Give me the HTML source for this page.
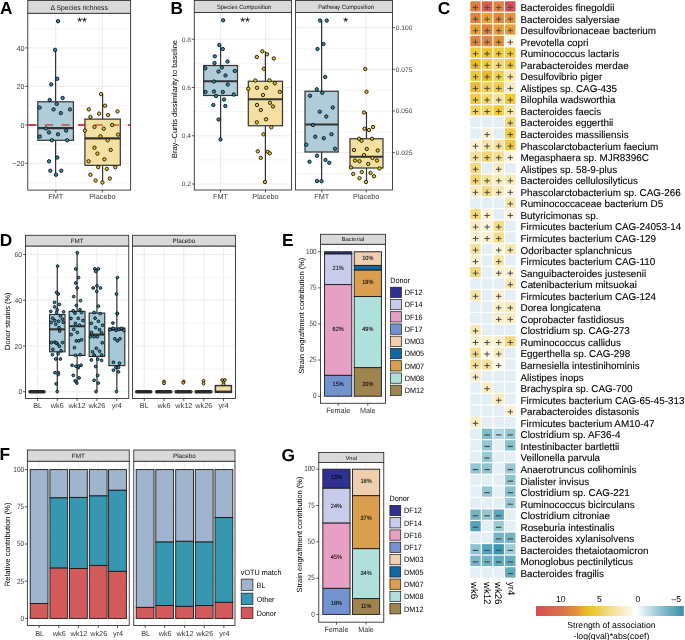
<!DOCTYPE html>
<html><head><meta charset="utf-8"><style>
html,body{margin:0;padding:0;background:#fff;}
svg{display:block;will-change:transform;}
text{font-family:"Liberation Sans", sans-serif;text-rendering:geometricPrecision;}
</style></head><body>
<svg width="685" height="640" viewBox="0 0 685 640">
<rect x="0" y="0" width="685" height="640" fill="#fff"/>
<text x="0.00" y="13.50" font-size="17.3" text-anchor="start" fill="#000" font-weight="bold" >A</text>
<text x="170.60" y="13.60" font-size="17.3" text-anchor="start" fill="#000" font-weight="bold" >B</text>
<text x="437.80" y="13.60" font-size="17.3" text-anchor="start" fill="#000" font-weight="bold" >C</text>
<text x="-0.20" y="245.60" font-size="17.3" text-anchor="start" fill="#000" font-weight="bold" >D</text>
<text x="282.00" y="246.20" font-size="17.3" text-anchor="start" fill="#000" font-weight="bold" >E</text>
<text x="-0.40" y="460.00" font-size="17.3" text-anchor="start" fill="#000" font-weight="bold" >F</text>
<text x="281.50" y="460.60" font-size="17.3" text-anchor="start" fill="#000" font-weight="bold" >G</text>
<rect x="27.75" y="13.30" width="102.85" height="176.80" fill="#fff" stroke="none" stroke-width="0" />
<line x1="27.75" y1="182.65" x2="130.60" y2="182.65" stroke="#ebebeb" stroke-width="0.5" />
<line x1="27.75" y1="144.15" x2="130.60" y2="144.15" stroke="#ebebeb" stroke-width="0.5" />
<line x1="27.75" y1="105.65" x2="130.60" y2="105.65" stroke="#ebebeb" stroke-width="0.5" />
<line x1="27.75" y1="67.15" x2="130.60" y2="67.15" stroke="#ebebeb" stroke-width="0.5" />
<line x1="27.75" y1="28.65" x2="130.60" y2="28.65" stroke="#ebebeb" stroke-width="0.5" />
<line x1="27.75" y1="163.40" x2="130.60" y2="163.40" stroke="#ebebeb" stroke-width="0.9" />
<line x1="27.75" y1="124.90" x2="130.60" y2="124.90" stroke="#ebebeb" stroke-width="0.9" />
<line x1="27.75" y1="86.40" x2="130.60" y2="86.40" stroke="#ebebeb" stroke-width="0.9" />
<line x1="27.75" y1="47.90" x2="130.60" y2="47.90" stroke="#ebebeb" stroke-width="0.9" />
<line x1="55.80" y1="13.30" x2="55.80" y2="190.10" stroke="#ebebeb" stroke-width="0.9" />
<line x1="102.40" y1="13.30" x2="102.40" y2="190.10" stroke="#ebebeb" stroke-width="0.9" />
<line x1="27.75" y1="125.00" x2="130.60" y2="125.00" stroke="#d44646" stroke-width="2.0" stroke-dasharray="8.3 8.3" stroke-dashoffset="-0.45"/>
<line x1="55.60" y1="49.83" x2="55.60" y2="101.80" stroke="#333333" stroke-width="1.2" />
<line x1="55.60" y1="140.30" x2="55.60" y2="174.95" stroke="#333333" stroke-width="1.2" />
<rect x="37.80" y="101.80" width="35.60" height="38.50" fill="#b0ccd9" stroke="#333333" stroke-width="1.2" />
<line x1="37.80" y1="128.17" x2="73.40" y2="128.17" stroke="#333333" stroke-width="2.1" />
<line x1="102.60" y1="94.10" x2="102.60" y2="119.12" stroke="#333333" stroke-width="1.2" />
<line x1="102.60" y1="165.33" x2="102.60" y2="182.65" stroke="#333333" stroke-width="1.2" />
<rect x="84.90" y="119.12" width="35.40" height="46.20" fill="#f5e0a3" stroke="#333333" stroke-width="1.2" />
<line x1="84.90" y1="138.38" x2="120.30" y2="138.38" stroke="#333333" stroke-width="2.1" />
<defs><clipPath id="cfm"><rect x="38.40" y="100" width="34.40" height="40"/></clipPath><clipPath id="cpl"><rect x="85.50" y="100" width="34.20" height="40"/></clipPath></defs>
<line x1="27.75" y1="125.00" x2="130.60" y2="125.00" stroke="#b46e6e" stroke-width="2.0" stroke-dasharray="8.3 8.3" stroke-dashoffset="-0.45" clip-path="url(#cfm)"/>
<line x1="27.75" y1="125.00" x2="130.60" y2="125.00" stroke="#de8048" stroke-width="2.0" stroke-dasharray="8.3 8.3" stroke-dashoffset="-0.45" clip-path="url(#cpl)"/>
<circle cx="58.00" cy="21.20" r="1.7" fill="#2d8fab" stroke="#000" stroke-width="0.8"/>
<circle cx="55.10" cy="49.90" r="1.7" fill="#2d8fab" stroke="#000" stroke-width="0.8"/>
<circle cx="57.30" cy="78.80" r="1.7" fill="#2d8fab" stroke="#000" stroke-width="0.8"/>
<circle cx="51.20" cy="84.40" r="1.7" fill="#2d8fab" stroke="#000" stroke-width="0.8"/>
<circle cx="49.70" cy="100.00" r="1.7" fill="#2d8fab" stroke="#000" stroke-width="0.8"/>
<circle cx="62.60" cy="98.00" r="1.7" fill="#2d8fab" stroke="#000" stroke-width="0.8"/>
<circle cx="56.70" cy="103.90" r="1.7" fill="#2d8fab" stroke="#000" stroke-width="0.8"/>
<circle cx="39.60" cy="107.60" r="1.7" fill="#2d8fab" stroke="#000" stroke-width="0.8"/>
<circle cx="53.60" cy="109.40" r="1.7" fill="#2d8fab" stroke="#000" stroke-width="0.8"/>
<circle cx="60.80" cy="113.10" r="1.7" fill="#2d8fab" stroke="#000" stroke-width="0.8"/>
<circle cx="70.00" cy="109.40" r="1.7" fill="#2d8fab" stroke="#000" stroke-width="0.8"/>
<circle cx="45.90" cy="128.40" r="1.7" fill="#2d8fab" stroke="#000" stroke-width="0.8"/>
<circle cx="49.00" cy="132.40" r="1.7" fill="#2d8fab" stroke="#000" stroke-width="0.8"/>
<circle cx="58.00" cy="134.30" r="1.7" fill="#2d8fab" stroke="#000" stroke-width="0.8"/>
<circle cx="66.10" cy="130.60" r="1.7" fill="#2d8fab" stroke="#000" stroke-width="0.8"/>
<circle cx="39.80" cy="136.50" r="1.7" fill="#2d8fab" stroke="#000" stroke-width="0.8"/>
<circle cx="51.80" cy="140.30" r="1.7" fill="#2d8fab" stroke="#000" stroke-width="0.8"/>
<circle cx="67.20" cy="140.30" r="1.7" fill="#2d8fab" stroke="#000" stroke-width="0.8"/>
<circle cx="57.30" cy="157.50" r="1.7" fill="#2d8fab" stroke="#000" stroke-width="0.8"/>
<circle cx="49.00" cy="161.30" r="1.7" fill="#2d8fab" stroke="#000" stroke-width="0.8"/>
<circle cx="50.30" cy="170.70" r="1.7" fill="#2d8fab" stroke="#000" stroke-width="0.8"/>
<circle cx="61.30" cy="170.70" r="1.7" fill="#2d8fab" stroke="#000" stroke-width="0.8"/>
<circle cx="56.00" cy="174.80" r="1.7" fill="#2d8fab" stroke="#000" stroke-width="0.8"/>
<circle cx="101.10" cy="94.10" r="1.7" fill="#e9c420" stroke="#000" stroke-width="0.8"/>
<circle cx="88.80" cy="109.40" r="1.7" fill="#e9c420" stroke="#000" stroke-width="0.8"/>
<circle cx="105.00" cy="105.70" r="1.7" fill="#e9c420" stroke="#000" stroke-width="0.8"/>
<circle cx="117.50" cy="111.40" r="1.7" fill="#e9c420" stroke="#000" stroke-width="0.8"/>
<circle cx="90.40" cy="117.00" r="1.7" fill="#e9c420" stroke="#000" stroke-width="0.8"/>
<circle cx="99.10" cy="113.60" r="1.7" fill="#e9c420" stroke="#000" stroke-width="0.8"/>
<circle cx="108.10" cy="115.10" r="1.7" fill="#e9c420" stroke="#000" stroke-width="0.8"/>
<circle cx="84.90" cy="130.60" r="1.7" fill="#e9c420" stroke="#000" stroke-width="0.8"/>
<circle cx="94.50" cy="126.90" r="1.7" fill="#e9c420" stroke="#000" stroke-width="0.8"/>
<circle cx="103.70" cy="128.70" r="1.7" fill="#e9c420" stroke="#000" stroke-width="0.8"/>
<circle cx="112.20" cy="125.00" r="1.7" fill="#e9c420" stroke="#000" stroke-width="0.8"/>
<circle cx="118.10" cy="134.60" r="1.7" fill="#e9c420" stroke="#000" stroke-width="0.8"/>
<circle cx="100.40" cy="136.30" r="1.7" fill="#e9c420" stroke="#000" stroke-width="0.8"/>
<circle cx="107.60" cy="140.30" r="1.7" fill="#e9c420" stroke="#000" stroke-width="0.8"/>
<circle cx="94.50" cy="147.70" r="1.7" fill="#e9c420" stroke="#000" stroke-width="0.8"/>
<circle cx="110.70" cy="149.90" r="1.7" fill="#e9c420" stroke="#000" stroke-width="0.8"/>
<circle cx="97.40" cy="153.60" r="1.7" fill="#e9c420" stroke="#000" stroke-width="0.8"/>
<circle cx="104.40" cy="159.30" r="1.7" fill="#e9c420" stroke="#000" stroke-width="0.8"/>
<circle cx="88.60" cy="161.30" r="1.7" fill="#e9c420" stroke="#000" stroke-width="0.8"/>
<circle cx="98.20" cy="167.20" r="1.7" fill="#e9c420" stroke="#000" stroke-width="0.8"/>
<circle cx="106.80" cy="168.90" r="1.7" fill="#e9c420" stroke="#000" stroke-width="0.8"/>
<circle cx="115.30" cy="167.20" r="1.7" fill="#e9c420" stroke="#000" stroke-width="0.8"/>
<circle cx="90.40" cy="174.80" r="1.7" fill="#e9c420" stroke="#000" stroke-width="0.8"/>
<circle cx="95.60" cy="180.50" r="1.7" fill="#e9c420" stroke="#000" stroke-width="0.8"/>
<circle cx="102.40" cy="182.50" r="1.7" fill="#e9c420" stroke="#000" stroke-width="0.8"/>
<circle cx="109.80" cy="178.50" r="1.7" fill="#e9c420" stroke="#000" stroke-width="0.8"/>
<text x="82.00" y="25.50" font-size="12.5" text-anchor="middle" fill="#000" >**</text>
<rect x="27.75" y="13.30" width="102.85" height="176.80" fill="none" stroke="#333333" stroke-width="0.9" />
<rect x="27.75" y="0.50" width="102.85" height="12.80" fill="#d9d9d9" stroke="#333333" stroke-width="0.9" />
<text x="79.17" y="9.80" font-size="6.9" text-anchor="middle" fill="#111" textLength="57.3" lengthAdjust="spacingAndGlyphs" >Δ Species richness</text>
<line x1="25.25" y1="163.40" x2="27.75" y2="163.40" stroke="#333333" stroke-width="0.8" />
<text x="24.45" y="166.28" font-size="7.2" text-anchor="end" fill="#3a3a3a" >−20</text>
<line x1="25.25" y1="124.90" x2="27.75" y2="124.90" stroke="#333333" stroke-width="0.8" />
<text x="24.45" y="127.78" font-size="7.2" text-anchor="end" fill="#3a3a3a" >0</text>
<line x1="25.25" y1="86.40" x2="27.75" y2="86.40" stroke="#333333" stroke-width="0.8" />
<text x="24.45" y="89.28" font-size="7.2" text-anchor="end" fill="#3a3a3a" >20</text>
<line x1="25.25" y1="47.90" x2="27.75" y2="47.90" stroke="#333333" stroke-width="0.8" />
<text x="24.45" y="50.78" font-size="7.2" text-anchor="end" fill="#3a3a3a" >40</text>
<line x1="55.80" y1="190.10" x2="55.80" y2="192.60" stroke="#333333" stroke-width="0.8" />
<text x="55.80" y="199.00" font-size="7.3" text-anchor="middle" fill="#3a3a3a" >FMT</text>
<line x1="102.40" y1="190.10" x2="102.40" y2="192.60" stroke="#333333" stroke-width="0.8" />
<text x="102.40" y="199.00" font-size="7.3" text-anchor="middle" fill="#3a3a3a" >Placebo</text>
<rect x="194.30" y="12.50" width="97.20" height="177.50" fill="#fff" stroke="none" stroke-width="0" />
<rect x="295.50" y="12.50" width="97.00" height="177.50" fill="#fff" stroke="none" stroke-width="0" />
<line x1="194.30" y1="159.88" x2="291.50" y2="159.88" stroke="#ebebeb" stroke-width="0.5" />
<line x1="194.30" y1="111.62" x2="291.50" y2="111.62" stroke="#ebebeb" stroke-width="0.5" />
<line x1="194.30" y1="63.38" x2="291.50" y2="63.38" stroke="#ebebeb" stroke-width="0.5" />
<line x1="194.30" y1="184.00" x2="291.50" y2="184.00" stroke="#ebebeb" stroke-width="0.9" />
<line x1="194.30" y1="135.75" x2="291.50" y2="135.75" stroke="#ebebeb" stroke-width="0.9" />
<line x1="194.30" y1="87.50" x2="291.50" y2="87.50" stroke="#ebebeb" stroke-width="0.9" />
<line x1="194.30" y1="39.25" x2="291.50" y2="39.25" stroke="#ebebeb" stroke-width="0.9" />
<line x1="295.50" y1="131.85" x2="392.50" y2="131.85" stroke="#ebebeb" stroke-width="0.5" />
<line x1="295.50" y1="90.15" x2="392.50" y2="90.15" stroke="#ebebeb" stroke-width="0.5" />
<line x1="295.50" y1="48.45" x2="392.50" y2="48.45" stroke="#ebebeb" stroke-width="0.5" />
<line x1="295.50" y1="173.55" x2="392.50" y2="173.55" stroke="#ebebeb" stroke-width="0.5" />
<line x1="295.50" y1="152.70" x2="392.50" y2="152.70" stroke="#ebebeb" stroke-width="0.9" />
<line x1="295.50" y1="111.00" x2="392.50" y2="111.00" stroke="#ebebeb" stroke-width="0.9" />
<line x1="295.50" y1="69.30" x2="392.50" y2="69.30" stroke="#ebebeb" stroke-width="0.9" />
<line x1="295.50" y1="27.60" x2="392.50" y2="27.60" stroke="#ebebeb" stroke-width="0.9" />
<line x1="220.50" y1="12.50" x2="220.50" y2="190.00" stroke="#ebebeb" stroke-width="0.9" />
<line x1="265.50" y1="12.50" x2="265.50" y2="190.00" stroke="#ebebeb" stroke-width="0.9" />
<line x1="321.75" y1="12.50" x2="321.75" y2="190.00" stroke="#ebebeb" stroke-width="0.9" />
<line x1="366.25" y1="12.50" x2="366.25" y2="190.00" stroke="#ebebeb" stroke-width="0.9" />
<line x1="220.60" y1="45.28" x2="220.60" y2="65.50" stroke="#333333" stroke-width="1.2" />
<line x1="220.60" y1="95.50" x2="220.60" y2="139.37" stroke="#333333" stroke-width="1.2" />
<rect x="203.70" y="65.50" width="33.80" height="30.00" fill="#b0ccd9" stroke="#333333" stroke-width="1.2" />
<line x1="203.70" y1="81.25" x2="237.50" y2="81.25" stroke="#333333" stroke-width="2.1" />
<line x1="265.40" y1="51.31" x2="265.40" y2="81.25" stroke="#333333" stroke-width="1.2" />
<line x1="265.40" y1="125.75" x2="265.40" y2="182.79" stroke="#333333" stroke-width="1.2" />
<rect x="248.30" y="81.25" width="34.20" height="44.50" fill="#f5e0a3" stroke="#333333" stroke-width="1.2" />
<line x1="248.30" y1="99.25" x2="282.50" y2="99.25" stroke="#333333" stroke-width="2.1" />
<line x1="321.60" y1="20.30" x2="321.60" y2="91.25" stroke="#333333" stroke-width="1.2" />
<line x1="321.60" y1="152.00" x2="321.60" y2="181.25" stroke="#333333" stroke-width="1.2" />
<rect x="305.00" y="91.25" width="33.20" height="60.75" fill="#b0ccd9" stroke="#333333" stroke-width="1.2" />
<line x1="305.00" y1="124.50" x2="338.20" y2="124.50" stroke="#333333" stroke-width="2.1" />
<line x1="366.50" y1="112.00" x2="366.50" y2="138.75" stroke="#333333" stroke-width="1.2" />
<line x1="366.50" y1="168.00" x2="366.50" y2="182.00" stroke="#333333" stroke-width="1.2" />
<rect x="350.00" y="138.75" width="33.00" height="29.25" fill="#f5e0a3" stroke="#333333" stroke-width="1.2" />
<line x1="350.00" y1="156.80" x2="383.00" y2="156.80" stroke="#333333" stroke-width="2.1" />
<circle cx="223.10" cy="20.30" r="1.7" fill="#2d8fab" stroke="#000" stroke-width="0.8"/>
<circle cx="219.30" cy="45.00" r="1.7" fill="#2d8fab" stroke="#000" stroke-width="0.8"/>
<circle cx="222.80" cy="49.00" r="1.7" fill="#2d8fab" stroke="#000" stroke-width="0.8"/>
<circle cx="214.80" cy="56.30" r="1.7" fill="#2d8fab" stroke="#000" stroke-width="0.8"/>
<circle cx="214.50" cy="63.00" r="1.7" fill="#2d8fab" stroke="#000" stroke-width="0.8"/>
<circle cx="227.50" cy="61.50" r="1.7" fill="#2d8fab" stroke="#000" stroke-width="0.8"/>
<circle cx="205.30" cy="68.30" r="1.7" fill="#2d8fab" stroke="#000" stroke-width="0.8"/>
<circle cx="221.80" cy="67.50" r="1.7" fill="#2d8fab" stroke="#000" stroke-width="0.8"/>
<circle cx="218.50" cy="71.50" r="1.7" fill="#2d8fab" stroke="#000" stroke-width="0.8"/>
<circle cx="225.50" cy="75.50" r="1.7" fill="#2d8fab" stroke="#000" stroke-width="0.8"/>
<circle cx="234.80" cy="71.00" r="1.7" fill="#2d8fab" stroke="#000" stroke-width="0.8"/>
<circle cx="213.80" cy="81.50" r="1.7" fill="#2d8fab" stroke="#000" stroke-width="0.8"/>
<circle cx="227.80" cy="84.50" r="1.7" fill="#2d8fab" stroke="#000" stroke-width="0.8"/>
<circle cx="205.50" cy="92.00" r="1.7" fill="#2d8fab" stroke="#000" stroke-width="0.8"/>
<circle cx="214.00" cy="91.50" r="1.7" fill="#2d8fab" stroke="#000" stroke-width="0.8"/>
<circle cx="222.80" cy="92.00" r="1.7" fill="#2d8fab" stroke="#000" stroke-width="0.8"/>
<circle cx="233.80" cy="94.50" r="1.7" fill="#2d8fab" stroke="#000" stroke-width="0.8"/>
<circle cx="216.00" cy="96.00" r="1.7" fill="#2d8fab" stroke="#000" stroke-width="0.8"/>
<circle cx="224.00" cy="99.50" r="1.7" fill="#2d8fab" stroke="#000" stroke-width="0.8"/>
<circle cx="213.30" cy="105.00" r="1.7" fill="#2d8fab" stroke="#000" stroke-width="0.8"/>
<circle cx="225.30" cy="106.00" r="1.7" fill="#2d8fab" stroke="#000" stroke-width="0.8"/>
<circle cx="218.50" cy="119.50" r="1.7" fill="#2d8fab" stroke="#000" stroke-width="0.8"/>
<circle cx="220.50" cy="139.50" r="1.7" fill="#2d8fab" stroke="#000" stroke-width="0.8"/>
<circle cx="262.30" cy="51.30" r="1.7" fill="#e9c420" stroke="#000" stroke-width="0.8"/>
<circle cx="256.80" cy="57.00" r="1.7" fill="#e9c420" stroke="#000" stroke-width="0.8"/>
<circle cx="267.00" cy="54.30" r="1.7" fill="#e9c420" stroke="#000" stroke-width="0.8"/>
<circle cx="273.80" cy="58.50" r="1.7" fill="#e9c420" stroke="#000" stroke-width="0.8"/>
<circle cx="263.80" cy="68.80" r="1.7" fill="#e9c420" stroke="#000" stroke-width="0.8"/>
<circle cx="255.30" cy="80.50" r="1.7" fill="#e9c420" stroke="#000" stroke-width="0.8"/>
<circle cx="269.50" cy="80.30" r="1.7" fill="#e9c420" stroke="#000" stroke-width="0.8"/>
<circle cx="274.80" cy="83.30" r="1.7" fill="#e9c420" stroke="#000" stroke-width="0.8"/>
<circle cx="248.30" cy="88.80" r="1.7" fill="#e9c420" stroke="#000" stroke-width="0.8"/>
<circle cx="257.00" cy="87.80" r="1.7" fill="#e9c420" stroke="#000" stroke-width="0.8"/>
<circle cx="266.30" cy="87.80" r="1.7" fill="#e9c420" stroke="#000" stroke-width="0.8"/>
<circle cx="279.80" cy="91.80" r="1.7" fill="#e9c420" stroke="#000" stroke-width="0.8"/>
<circle cx="263.00" cy="95.00" r="1.7" fill="#e9c420" stroke="#000" stroke-width="0.8"/>
<circle cx="257.00" cy="105.00" r="1.7" fill="#e9c420" stroke="#000" stroke-width="0.8"/>
<circle cx="270.00" cy="102.80" r="1.7" fill="#e9c420" stroke="#000" stroke-width="0.8"/>
<circle cx="273.00" cy="106.50" r="1.7" fill="#e9c420" stroke="#000" stroke-width="0.8"/>
<circle cx="260.80" cy="110.00" r="1.7" fill="#e9c420" stroke="#000" stroke-width="0.8"/>
<circle cx="266.00" cy="119.30" r="1.7" fill="#e9c420" stroke="#000" stroke-width="0.8"/>
<circle cx="256.80" cy="122.30" r="1.7" fill="#e9c420" stroke="#000" stroke-width="0.8"/>
<circle cx="271.30" cy="127.30" r="1.7" fill="#e9c420" stroke="#000" stroke-width="0.8"/>
<circle cx="263.50" cy="134.30" r="1.7" fill="#e9c420" stroke="#000" stroke-width="0.8"/>
<circle cx="257.80" cy="151.30" r="1.7" fill="#e9c420" stroke="#000" stroke-width="0.8"/>
<circle cx="260.80" cy="157.80" r="1.7" fill="#e9c420" stroke="#000" stroke-width="0.8"/>
<circle cx="267.80" cy="151.80" r="1.7" fill="#e9c420" stroke="#000" stroke-width="0.8"/>
<circle cx="269.80" cy="153.30" r="1.7" fill="#e9c420" stroke="#000" stroke-width="0.8"/>
<circle cx="265.00" cy="182.00" r="1.7" fill="#e9c420" stroke="#000" stroke-width="0.8"/>
<circle cx="320.00" cy="20.50" r="1.7" fill="#2d8fab" stroke="#000" stroke-width="0.8"/>
<circle cx="326.75" cy="20.50" r="1.7" fill="#2d8fab" stroke="#000" stroke-width="0.8"/>
<circle cx="317.50" cy="49.00" r="1.7" fill="#2d8fab" stroke="#000" stroke-width="0.8"/>
<circle cx="323.50" cy="44.00" r="1.7" fill="#2d8fab" stroke="#000" stroke-width="0.8"/>
<circle cx="325.25" cy="77.00" r="1.7" fill="#2d8fab" stroke="#000" stroke-width="0.8"/>
<circle cx="316.75" cy="89.25" r="1.7" fill="#2d8fab" stroke="#000" stroke-width="0.8"/>
<circle cx="310.00" cy="95.75" r="1.7" fill="#2d8fab" stroke="#000" stroke-width="0.8"/>
<circle cx="322.25" cy="92.75" r="1.7" fill="#2d8fab" stroke="#000" stroke-width="0.8"/>
<circle cx="332.75" cy="107.50" r="1.7" fill="#2d8fab" stroke="#000" stroke-width="0.8"/>
<circle cx="319.75" cy="111.75" r="1.7" fill="#2d8fab" stroke="#000" stroke-width="0.8"/>
<circle cx="326.25" cy="116.50" r="1.7" fill="#2d8fab" stroke="#000" stroke-width="0.8"/>
<circle cx="313.00" cy="125.00" r="1.7" fill="#2d8fab" stroke="#000" stroke-width="0.8"/>
<circle cx="315.25" cy="136.75" r="1.7" fill="#2d8fab" stroke="#000" stroke-width="0.8"/>
<circle cx="323.75" cy="138.25" r="1.7" fill="#2d8fab" stroke="#000" stroke-width="0.8"/>
<circle cx="331.50" cy="134.25" r="1.7" fill="#2d8fab" stroke="#000" stroke-width="0.8"/>
<circle cx="306.25" cy="144.75" r="1.7" fill="#2d8fab" stroke="#000" stroke-width="0.8"/>
<circle cx="335.00" cy="148.75" r="1.7" fill="#2d8fab" stroke="#000" stroke-width="0.8"/>
<circle cx="317.00" cy="155.75" r="1.7" fill="#2d8fab" stroke="#000" stroke-width="0.8"/>
<circle cx="309.50" cy="161.75" r="1.7" fill="#2d8fab" stroke="#000" stroke-width="0.8"/>
<circle cx="325.50" cy="160.00" r="1.7" fill="#2d8fab" stroke="#000" stroke-width="0.8"/>
<circle cx="329.25" cy="162.75" r="1.7" fill="#2d8fab" stroke="#000" stroke-width="0.8"/>
<circle cx="317.00" cy="181.00" r="1.7" fill="#2d8fab" stroke="#000" stroke-width="0.8"/>
<circle cx="321.50" cy="181.25" r="1.7" fill="#2d8fab" stroke="#000" stroke-width="0.8"/>
<circle cx="365.25" cy="69.00" r="1.7" fill="#e9c420" stroke="#000" stroke-width="0.8"/>
<circle cx="366.50" cy="91.75" r="1.7" fill="#e9c420" stroke="#000" stroke-width="0.8"/>
<circle cx="364.00" cy="112.50" r="1.7" fill="#e9c420" stroke="#000" stroke-width="0.8"/>
<circle cx="364.50" cy="128.75" r="1.7" fill="#e9c420" stroke="#000" stroke-width="0.8"/>
<circle cx="369.00" cy="130.00" r="1.7" fill="#e9c420" stroke="#000" stroke-width="0.8"/>
<circle cx="373.00" cy="127.00" r="1.7" fill="#e9c420" stroke="#000" stroke-width="0.8"/>
<circle cx="359.00" cy="138.75" r="1.7" fill="#e9c420" stroke="#000" stroke-width="0.8"/>
<circle cx="361.50" cy="140.75" r="1.7" fill="#e9c420" stroke="#000" stroke-width="0.8"/>
<circle cx="372.00" cy="138.75" r="1.7" fill="#e9c420" stroke="#000" stroke-width="0.8"/>
<circle cx="354.00" cy="150.00" r="1.7" fill="#e9c420" stroke="#000" stroke-width="0.8"/>
<circle cx="366.75" cy="149.00" r="1.7" fill="#e9c420" stroke="#000" stroke-width="0.8"/>
<circle cx="377.75" cy="150.50" r="1.7" fill="#e9c420" stroke="#000" stroke-width="0.8"/>
<circle cx="364.00" cy="155.00" r="1.7" fill="#e9c420" stroke="#000" stroke-width="0.8"/>
<circle cx="355.00" cy="160.50" r="1.7" fill="#e9c420" stroke="#000" stroke-width="0.8"/>
<circle cx="359.50" cy="161.25" r="1.7" fill="#e9c420" stroke="#000" stroke-width="0.8"/>
<circle cx="372.50" cy="158.00" r="1.7" fill="#e9c420" stroke="#000" stroke-width="0.8"/>
<circle cx="377.00" cy="160.50" r="1.7" fill="#e9c420" stroke="#000" stroke-width="0.8"/>
<circle cx="368.25" cy="164.00" r="1.7" fill="#e9c420" stroke="#000" stroke-width="0.8"/>
<circle cx="351.00" cy="167.50" r="1.7" fill="#e9c420" stroke="#000" stroke-width="0.8"/>
<circle cx="379.50" cy="168.50" r="1.7" fill="#e9c420" stroke="#000" stroke-width="0.8"/>
<circle cx="353.25" cy="174.00" r="1.7" fill="#e9c420" stroke="#000" stroke-width="0.8"/>
<circle cx="361.75" cy="172.00" r="1.7" fill="#e9c420" stroke="#000" stroke-width="0.8"/>
<circle cx="370.50" cy="173.00" r="1.7" fill="#e9c420" stroke="#000" stroke-width="0.8"/>
<circle cx="374.00" cy="176.25" r="1.7" fill="#e9c420" stroke="#000" stroke-width="0.8"/>
<circle cx="359.50" cy="178.25" r="1.7" fill="#e9c420" stroke="#000" stroke-width="0.8"/>
<circle cx="366.00" cy="182.00" r="1.7" fill="#e9c420" stroke="#000" stroke-width="0.8"/>
<text x="245.00" y="25.50" font-size="12.5" text-anchor="middle" fill="#000" >**</text>
<text x="345.80" y="25.50" font-size="12.5" text-anchor="middle" fill="#000" >*</text>
<rect x="194.30" y="12.50" width="97.20" height="177.50" fill="none" stroke="#333333" stroke-width="0.9" />
<rect x="295.50" y="12.50" width="97.00" height="177.50" fill="none" stroke="#333333" stroke-width="0.9" />
<rect x="194.30" y="0.50" width="97.20" height="12.00" fill="#d9d9d9" stroke="#333333" stroke-width="0.9" />
<text x="244.10" y="9.30" font-size="6.1" text-anchor="middle" fill="#111" textLength="54.1" lengthAdjust="spacingAndGlyphs" >Species Composition</text>
<rect x="295.50" y="0.50" width="97.00" height="12.00" fill="#d9d9d9" stroke="#333333" stroke-width="0.9" />
<text x="346.00" y="9.30" font-size="6.1" text-anchor="middle" fill="#111" textLength="55.7" lengthAdjust="spacingAndGlyphs" >Pathway Composition</text>
<line x1="191.80" y1="184.00" x2="194.30" y2="184.00" stroke="#333333" stroke-width="0.8" />
<text x="191.00" y="186.46" font-size="6.6" text-anchor="end" fill="#3a3a3a" >0.2</text>
<line x1="191.80" y1="135.75" x2="194.30" y2="135.75" stroke="#333333" stroke-width="0.8" />
<text x="191.00" y="138.21" font-size="6.6" text-anchor="end" fill="#3a3a3a" >0.4</text>
<line x1="191.80" y1="87.50" x2="194.30" y2="87.50" stroke="#333333" stroke-width="0.8" />
<text x="191.00" y="89.96" font-size="6.6" text-anchor="end" fill="#3a3a3a" >0.6</text>
<line x1="191.80" y1="39.25" x2="194.30" y2="39.25" stroke="#333333" stroke-width="0.8" />
<text x="191.00" y="41.71" font-size="6.6" text-anchor="end" fill="#3a3a3a" >0.8</text>
<line x1="392.50" y1="152.70" x2="395.00" y2="152.70" stroke="#333333" stroke-width="0.8" />
<text x="395.80" y="155.16" font-size="6.6" text-anchor="start" fill="#3a3a3a" >0.025</text>
<line x1="392.50" y1="111.00" x2="395.00" y2="111.00" stroke="#333333" stroke-width="0.8" />
<text x="395.80" y="113.46" font-size="6.6" text-anchor="start" fill="#3a3a3a" >0.050</text>
<line x1="392.50" y1="69.30" x2="395.00" y2="69.30" stroke="#333333" stroke-width="0.8" />
<text x="395.80" y="71.76" font-size="6.6" text-anchor="start" fill="#3a3a3a" >0.075</text>
<line x1="392.50" y1="27.60" x2="395.00" y2="27.60" stroke="#333333" stroke-width="0.8" />
<text x="395.80" y="30.06" font-size="6.6" text-anchor="start" fill="#3a3a3a" >0.100</text>
<line x1="220.50" y1="190.00" x2="220.50" y2="192.50" stroke="#333333" stroke-width="0.8" />
<text x="220.50" y="199.00" font-size="7.3" text-anchor="middle" fill="#3a3a3a" >FMT</text>
<line x1="265.50" y1="190.00" x2="265.50" y2="192.50" stroke="#333333" stroke-width="0.8" />
<text x="265.50" y="199.00" font-size="7.3" text-anchor="middle" fill="#3a3a3a" >Placebo</text>
<line x1="321.75" y1="190.00" x2="321.75" y2="192.50" stroke="#333333" stroke-width="0.8" />
<text x="321.75" y="199.00" font-size="7.3" text-anchor="middle" fill="#3a3a3a" >FMT</text>
<line x1="366.25" y1="190.00" x2="366.25" y2="192.50" stroke="#333333" stroke-width="0.8" />
<text x="366.25" y="199.00" font-size="7.3" text-anchor="middle" fill="#3a3a3a" >Placebo</text>
<text x="176.90" y="99.00" font-size="7.5" text-anchor="middle" fill="#000" textLength="118" lengthAdjust="spacingAndGlyphs" transform="rotate(-90 176.90 99.00)" >Bray–Curtis dissimilarity to baseline</text>
<rect x="470.30" y="1.30" width="10.40" height="10.30" fill="#e07f3c" stroke="none" stroke-width="0" />
<line x1="472.75" y1="7.55" x2="478.25" y2="7.55" stroke="#4a4a4a" stroke-width="1.0" />
<line x1="475.50" y1="4.95" x2="475.50" y2="10.15" stroke="#4a4a4a" stroke-width="1.0" />
<rect x="481.90" y="1.30" width="10.40" height="10.30" fill="#d85d4b" stroke="none" stroke-width="0" />
<line x1="484.35" y1="7.55" x2="489.85" y2="7.55" stroke="#4a4a4a" stroke-width="1.0" />
<line x1="487.10" y1="4.95" x2="487.10" y2="10.15" stroke="#4a4a4a" stroke-width="1.0" />
<rect x="493.50" y="1.30" width="10.40" height="10.30" fill="#e0823c" stroke="none" stroke-width="0" />
<line x1="495.95" y1="7.55" x2="501.45" y2="7.55" stroke="#4a4a4a" stroke-width="1.0" />
<line x1="498.70" y1="4.95" x2="498.70" y2="10.15" stroke="#4a4a4a" stroke-width="1.0" />
<rect x="505.10" y="1.30" width="10.40" height="10.30" fill="#d44f52" stroke="none" stroke-width="0" />
<line x1="507.55" y1="7.55" x2="513.05" y2="7.55" stroke="#4a4a4a" stroke-width="1.0" />
<line x1="510.30" y1="4.95" x2="510.30" y2="10.15" stroke="#4a4a4a" stroke-width="1.0" />
<text x="520.50" y="10.95" font-size="9.9" text-anchor="start" fill="#000" stroke="#000" stroke-width="0.1">Bacteroides finegoldii</text>
<rect x="470.30" y="12.85" width="10.40" height="10.30" fill="#e0853d" stroke="none" stroke-width="0" />
<line x1="472.75" y1="19.10" x2="478.25" y2="19.10" stroke="#4a4a4a" stroke-width="1.0" />
<line x1="475.50" y1="16.50" x2="475.50" y2="21.70" stroke="#4a4a4a" stroke-width="1.0" />
<rect x="481.90" y="12.85" width="10.40" height="10.30" fill="#e8a234" stroke="none" stroke-width="0" />
<line x1="484.35" y1="19.10" x2="489.85" y2="19.10" stroke="#4a4a4a" stroke-width="1.0" />
<line x1="487.10" y1="16.50" x2="487.10" y2="21.70" stroke="#4a4a4a" stroke-width="1.0" />
<rect x="493.50" y="12.85" width="10.40" height="10.30" fill="#e28a3c" stroke="none" stroke-width="0" />
<line x1="495.95" y1="19.10" x2="501.45" y2="19.10" stroke="#4a4a4a" stroke-width="1.0" />
<line x1="498.70" y1="16.50" x2="498.70" y2="21.70" stroke="#4a4a4a" stroke-width="1.0" />
<rect x="505.10" y="12.85" width="10.40" height="10.30" fill="#e49438" stroke="none" stroke-width="0" />
<line x1="507.55" y1="19.10" x2="513.05" y2="19.10" stroke="#4a4a4a" stroke-width="1.0" />
<line x1="510.30" y1="16.50" x2="510.30" y2="21.70" stroke="#4a4a4a" stroke-width="1.0" />
<text x="520.50" y="22.50" font-size="9.9" text-anchor="start" fill="#000" stroke="#000" stroke-width="0.1">Bacteroides salyersiae</text>
<rect x="470.30" y="24.40" width="10.40" height="10.30" fill="#e8a034" stroke="none" stroke-width="0" />
<line x1="472.75" y1="30.65" x2="478.25" y2="30.65" stroke="#4a4a4a" stroke-width="1.0" />
<line x1="475.50" y1="28.05" x2="475.50" y2="33.25" stroke="#4a4a4a" stroke-width="1.0" />
<rect x="481.90" y="24.40" width="10.40" height="10.30" fill="#e0823c" stroke="none" stroke-width="0" />
<line x1="484.35" y1="30.65" x2="489.85" y2="30.65" stroke="#4a4a4a" stroke-width="1.0" />
<line x1="487.10" y1="28.05" x2="487.10" y2="33.25" stroke="#4a4a4a" stroke-width="1.0" />
<rect x="493.50" y="24.40" width="10.40" height="10.30" fill="#e69c36" stroke="none" stroke-width="0" />
<line x1="495.95" y1="30.65" x2="501.45" y2="30.65" stroke="#4a4a4a" stroke-width="1.0" />
<line x1="498.70" y1="28.05" x2="498.70" y2="33.25" stroke="#4a4a4a" stroke-width="1.0" />
<rect x="505.10" y="24.40" width="10.40" height="10.30" fill="#e8a034" stroke="none" stroke-width="0" />
<line x1="507.55" y1="30.65" x2="513.05" y2="30.65" stroke="#4a4a4a" stroke-width="1.0" />
<line x1="510.30" y1="28.05" x2="510.30" y2="33.25" stroke="#4a4a4a" stroke-width="1.0" />
<text x="520.50" y="34.05" font-size="9.9" text-anchor="start" fill="#000" stroke="#000" stroke-width="0.1">Desulfovibrionaceae bacterium</text>
<rect x="470.30" y="35.95" width="10.40" height="10.30" fill="#e0853d" stroke="none" stroke-width="0" />
<line x1="472.75" y1="42.20" x2="478.25" y2="42.20" stroke="#4a4a4a" stroke-width="1.0" />
<line x1="475.50" y1="39.60" x2="475.50" y2="44.80" stroke="#4a4a4a" stroke-width="1.0" />
<rect x="481.90" y="35.95" width="10.40" height="10.30" fill="#e0863d" stroke="none" stroke-width="0" />
<line x1="484.35" y1="42.20" x2="489.85" y2="42.20" stroke="#4a4a4a" stroke-width="1.0" />
<line x1="487.10" y1="39.60" x2="487.10" y2="44.80" stroke="#4a4a4a" stroke-width="1.0" />
<rect x="493.50" y="35.95" width="10.40" height="10.30" fill="#e39239" stroke="none" stroke-width="0" />
<line x1="495.95" y1="42.20" x2="501.45" y2="42.20" stroke="#4a4a4a" stroke-width="1.0" />
<line x1="498.70" y1="39.60" x2="498.70" y2="44.80" stroke="#4a4a4a" stroke-width="1.0" />
<rect x="505.10" y="35.95" width="10.40" height="10.30" fill="#fbf4d8" stroke="none" stroke-width="0" />
<line x1="507.55" y1="42.20" x2="513.05" y2="42.20" stroke="#4a4a4a" stroke-width="1.0" />
<line x1="510.30" y1="39.60" x2="510.30" y2="44.80" stroke="#4a4a4a" stroke-width="1.0" />
<text x="520.50" y="45.60" font-size="9.9" text-anchor="start" fill="#000" stroke="#000" stroke-width="0.1">Prevotella copri</text>
<rect x="470.30" y="47.50" width="10.40" height="10.30" fill="#f0cc3a" stroke="none" stroke-width="0" />
<line x1="472.75" y1="53.75" x2="478.25" y2="53.75" stroke="#4a4a4a" stroke-width="1.0" />
<line x1="475.50" y1="51.15" x2="475.50" y2="56.35" stroke="#4a4a4a" stroke-width="1.0" />
<rect x="481.90" y="47.50" width="10.40" height="10.30" fill="#eec530" stroke="none" stroke-width="0" />
<line x1="484.35" y1="53.75" x2="489.85" y2="53.75" stroke="#4a4a4a" stroke-width="1.0" />
<line x1="487.10" y1="51.15" x2="487.10" y2="56.35" stroke="#4a4a4a" stroke-width="1.0" />
<rect x="493.50" y="47.50" width="10.40" height="10.30" fill="#f0cc3a" stroke="none" stroke-width="0" />
<line x1="495.95" y1="53.75" x2="501.45" y2="53.75" stroke="#4a4a4a" stroke-width="1.0" />
<line x1="498.70" y1="51.15" x2="498.70" y2="56.35" stroke="#4a4a4a" stroke-width="1.0" />
<rect x="505.10" y="47.50" width="10.40" height="10.30" fill="#f0cd40" stroke="none" stroke-width="0" />
<line x1="507.55" y1="53.75" x2="513.05" y2="53.75" stroke="#4a4a4a" stroke-width="1.0" />
<line x1="510.30" y1="51.15" x2="510.30" y2="56.35" stroke="#4a4a4a" stroke-width="1.0" />
<text x="520.50" y="57.15" font-size="9.9" text-anchor="start" fill="#000" stroke="#000" stroke-width="0.1">Ruminococcus lactaris</text>
<rect x="470.30" y="59.05" width="10.40" height="10.30" fill="#eab82c" stroke="none" stroke-width="0" />
<line x1="472.75" y1="65.30" x2="478.25" y2="65.30" stroke="#4a4a4a" stroke-width="1.0" />
<line x1="475.50" y1="62.70" x2="475.50" y2="67.90" stroke="#4a4a4a" stroke-width="1.0" />
<rect x="481.90" y="59.05" width="10.40" height="10.30" fill="#f0cc3e" stroke="none" stroke-width="0" />
<line x1="484.35" y1="65.30" x2="489.85" y2="65.30" stroke="#4a4a4a" stroke-width="1.0" />
<line x1="487.10" y1="62.70" x2="487.10" y2="67.90" stroke="#4a4a4a" stroke-width="1.0" />
<rect x="493.50" y="59.05" width="10.40" height="10.30" fill="#f3d870" stroke="none" stroke-width="0" />
<line x1="495.95" y1="65.30" x2="501.45" y2="65.30" stroke="#4a4a4a" stroke-width="1.0" />
<line x1="498.70" y1="62.70" x2="498.70" y2="67.90" stroke="#4a4a4a" stroke-width="1.0" />
<rect x="505.10" y="59.05" width="10.40" height="10.30" fill="#f0cc3c" stroke="none" stroke-width="0" />
<line x1="507.55" y1="65.30" x2="513.05" y2="65.30" stroke="#4a4a4a" stroke-width="1.0" />
<line x1="510.30" y1="62.70" x2="510.30" y2="67.90" stroke="#4a4a4a" stroke-width="1.0" />
<text x="520.50" y="68.70" font-size="9.9" text-anchor="start" fill="#000" stroke="#000" stroke-width="0.1">Parabacteroides merdae</text>
<rect x="470.30" y="70.60" width="10.40" height="10.30" fill="#f0c938" stroke="none" stroke-width="0" />
<line x1="472.75" y1="76.85" x2="478.25" y2="76.85" stroke="#4a4a4a" stroke-width="1.0" />
<line x1="475.50" y1="74.25" x2="475.50" y2="79.45" stroke="#4a4a4a" stroke-width="1.0" />
<rect x="481.90" y="70.60" width="10.40" height="10.30" fill="#eab92c" stroke="none" stroke-width="0" />
<line x1="484.35" y1="76.85" x2="489.85" y2="76.85" stroke="#4a4a4a" stroke-width="1.0" />
<line x1="487.10" y1="74.25" x2="487.10" y2="79.45" stroke="#4a4a4a" stroke-width="1.0" />
<rect x="493.50" y="70.60" width="10.40" height="10.30" fill="#f1d04a" stroke="none" stroke-width="0" />
<line x1="495.95" y1="76.85" x2="501.45" y2="76.85" stroke="#4a4a4a" stroke-width="1.0" />
<line x1="498.70" y1="74.25" x2="498.70" y2="79.45" stroke="#4a4a4a" stroke-width="1.0" />
<rect x="505.10" y="70.60" width="10.40" height="10.30" fill="#f7e6a8" stroke="none" stroke-width="0" />
<line x1="507.55" y1="76.85" x2="513.05" y2="76.85" stroke="#4a4a4a" stroke-width="1.0" />
<line x1="510.30" y1="74.25" x2="510.30" y2="79.45" stroke="#4a4a4a" stroke-width="1.0" />
<text x="520.50" y="80.25" font-size="9.9" text-anchor="start" fill="#000" stroke="#000" stroke-width="0.1">Desulfovibrio piger</text>
<rect x="470.30" y="82.15" width="10.40" height="10.30" fill="#ebbd2e" stroke="none" stroke-width="0" />
<line x1="472.75" y1="88.40" x2="478.25" y2="88.40" stroke="#4a4a4a" stroke-width="1.0" />
<line x1="475.50" y1="85.80" x2="475.50" y2="91.00" stroke="#4a4a4a" stroke-width="1.0" />
<rect x="481.90" y="82.15" width="10.40" height="10.30" fill="#f1d050" stroke="none" stroke-width="0" />
<line x1="484.35" y1="88.40" x2="489.85" y2="88.40" stroke="#4a4a4a" stroke-width="1.0" />
<line x1="487.10" y1="85.80" x2="487.10" y2="91.00" stroke="#4a4a4a" stroke-width="1.0" />
<rect x="493.50" y="82.15" width="10.40" height="10.30" fill="#f0cc3c" stroke="none" stroke-width="0" />
<line x1="495.95" y1="88.40" x2="501.45" y2="88.40" stroke="#4a4a4a" stroke-width="1.0" />
<line x1="498.70" y1="85.80" x2="498.70" y2="91.00" stroke="#4a4a4a" stroke-width="1.0" />
<rect x="505.10" y="82.15" width="10.40" height="10.30" fill="#f9ecc0" stroke="none" stroke-width="0" />
<line x1="507.55" y1="88.40" x2="513.05" y2="88.40" stroke="#4a4a4a" stroke-width="1.0" />
<line x1="510.30" y1="85.80" x2="510.30" y2="91.00" stroke="#4a4a4a" stroke-width="1.0" />
<text x="520.50" y="91.80" font-size="9.9" text-anchor="start" fill="#000" stroke="#000" stroke-width="0.1">Alistipes sp. CAG-435</text>
<rect x="470.30" y="93.70" width="10.40" height="10.30" fill="#f0ca40" stroke="none" stroke-width="0" />
<line x1="472.75" y1="99.95" x2="478.25" y2="99.95" stroke="#4a4a4a" stroke-width="1.0" />
<line x1="475.50" y1="97.35" x2="475.50" y2="102.55" stroke="#4a4a4a" stroke-width="1.0" />
<rect x="481.90" y="93.70" width="10.40" height="10.30" fill="#f3d868" stroke="none" stroke-width="0" />
<line x1="484.35" y1="99.95" x2="489.85" y2="99.95" stroke="#4a4a4a" stroke-width="1.0" />
<line x1="487.10" y1="97.35" x2="487.10" y2="102.55" stroke="#4a4a4a" stroke-width="1.0" />
<rect x="493.50" y="93.70" width="10.40" height="10.30" fill="#f6e2a0" stroke="none" stroke-width="0" />
<line x1="495.95" y1="99.95" x2="501.45" y2="99.95" stroke="#4a4a4a" stroke-width="1.0" />
<line x1="498.70" y1="97.35" x2="498.70" y2="102.55" stroke="#4a4a4a" stroke-width="1.0" />
<rect x="505.10" y="93.70" width="10.40" height="10.30" fill="#f0ca3a" stroke="none" stroke-width="0" />
<line x1="507.55" y1="99.95" x2="513.05" y2="99.95" stroke="#4a4a4a" stroke-width="1.0" />
<line x1="510.30" y1="97.35" x2="510.30" y2="102.55" stroke="#4a4a4a" stroke-width="1.0" />
<text x="520.50" y="103.35" font-size="9.9" text-anchor="start" fill="#000" stroke="#000" stroke-width="0.1">Bilophila wadsworthia</text>
<rect x="470.30" y="105.25" width="10.40" height="10.30" fill="#f3d660" stroke="none" stroke-width="0" />
<line x1="472.75" y1="111.50" x2="478.25" y2="111.50" stroke="#4a4a4a" stroke-width="1.0" />
<line x1="475.50" y1="108.90" x2="475.50" y2="114.10" stroke="#4a4a4a" stroke-width="1.0" />
<rect x="481.90" y="105.25" width="10.40" height="10.30" fill="#f3d560" stroke="none" stroke-width="0" />
<line x1="484.35" y1="111.50" x2="489.85" y2="111.50" stroke="#4a4a4a" stroke-width="1.0" />
<line x1="487.10" y1="108.90" x2="487.10" y2="114.10" stroke="#4a4a4a" stroke-width="1.0" />
<rect x="493.50" y="105.25" width="10.40" height="10.30" fill="#f0c93a" stroke="none" stroke-width="0" />
<line x1="495.95" y1="111.50" x2="501.45" y2="111.50" stroke="#4a4a4a" stroke-width="1.0" />
<line x1="498.70" y1="108.90" x2="498.70" y2="114.10" stroke="#4a4a4a" stroke-width="1.0" />
<rect x="505.10" y="105.25" width="10.40" height="10.30" fill="#f8e8b0" stroke="none" stroke-width="0" />
<line x1="507.55" y1="111.50" x2="513.05" y2="111.50" stroke="#4a4a4a" stroke-width="1.0" />
<line x1="510.30" y1="108.90" x2="510.30" y2="114.10" stroke="#4a4a4a" stroke-width="1.0" />
<text x="520.50" y="114.90" font-size="9.9" text-anchor="start" fill="#000" stroke="#000" stroke-width="0.1">Bacteroides faecis</text>
<rect x="470.30" y="116.80" width="10.40" height="10.30" fill="#e3eff4" stroke="none" stroke-width="0" />
<rect x="481.90" y="116.80" width="10.40" height="10.30" fill="#e3eff4" stroke="none" stroke-width="0" />
<rect x="493.50" y="116.80" width="10.40" height="10.30" fill="#e3eff4" stroke="none" stroke-width="0" />
<rect x="505.10" y="116.80" width="10.40" height="10.30" fill="#f3d776" stroke="none" stroke-width="0" />
<line x1="507.55" y1="123.05" x2="513.05" y2="123.05" stroke="#4a4a4a" stroke-width="1.0" />
<line x1="510.30" y1="120.45" x2="510.30" y2="125.65" stroke="#4a4a4a" stroke-width="1.0" />
<text x="520.50" y="126.45" font-size="9.9" text-anchor="start" fill="#000" stroke="#000" stroke-width="0.1">Bacteroides eggerthii</text>
<rect x="470.30" y="128.35" width="10.40" height="10.30" fill="#e3eff4" stroke="none" stroke-width="0" />
<rect x="481.90" y="128.35" width="10.40" height="10.30" fill="#fbf1d4" stroke="none" stroke-width="0" />
<line x1="484.35" y1="134.60" x2="489.85" y2="134.60" stroke="#4a4a4a" stroke-width="1.0" />
<line x1="487.10" y1="132.00" x2="487.10" y2="137.20" stroke="#4a4a4a" stroke-width="1.0" />
<rect x="493.50" y="128.35" width="10.40" height="10.30" fill="#e3eff4" stroke="none" stroke-width="0" />
<rect x="505.10" y="128.35" width="10.40" height="10.30" fill="#f0cc40" stroke="none" stroke-width="0" />
<line x1="507.55" y1="134.60" x2="513.05" y2="134.60" stroke="#4a4a4a" stroke-width="1.0" />
<line x1="510.30" y1="132.00" x2="510.30" y2="137.20" stroke="#4a4a4a" stroke-width="1.0" />
<text x="520.50" y="138.00" font-size="9.9" text-anchor="start" fill="#000" stroke="#000" stroke-width="0.1">Bacteroides massiliensis</text>
<rect x="470.30" y="139.90" width="10.40" height="10.30" fill="#fbf0d0" stroke="none" stroke-width="0" />
<line x1="472.75" y1="146.15" x2="478.25" y2="146.15" stroke="#4a4a4a" stroke-width="1.0" />
<line x1="475.50" y1="143.55" x2="475.50" y2="148.75" stroke="#4a4a4a" stroke-width="1.0" />
<rect x="481.90" y="139.90" width="10.40" height="10.30" fill="#f8e6a8" stroke="none" stroke-width="0" />
<line x1="484.35" y1="146.15" x2="489.85" y2="146.15" stroke="#4a4a4a" stroke-width="1.0" />
<line x1="487.10" y1="143.55" x2="487.10" y2="148.75" stroke="#4a4a4a" stroke-width="1.0" />
<rect x="493.50" y="139.90" width="10.40" height="10.30" fill="#f6e096" stroke="none" stroke-width="0" />
<line x1="495.95" y1="146.15" x2="501.45" y2="146.15" stroke="#4a4a4a" stroke-width="1.0" />
<line x1="498.70" y1="143.55" x2="498.70" y2="148.75" stroke="#4a4a4a" stroke-width="1.0" />
<rect x="505.10" y="139.90" width="10.40" height="10.30" fill="#eec838" stroke="none" stroke-width="0" />
<line x1="507.55" y1="146.15" x2="513.05" y2="146.15" stroke="#4a4a4a" stroke-width="1.0" />
<line x1="510.30" y1="143.55" x2="510.30" y2="148.75" stroke="#4a4a4a" stroke-width="1.0" />
<text x="520.50" y="149.55" font-size="9.9" text-anchor="start" fill="#000" stroke="#000" stroke-width="0.1">Phascolarctobacterium faecium</text>
<rect x="470.30" y="151.45" width="10.40" height="10.30" fill="#f6e09a" stroke="none" stroke-width="0" />
<line x1="472.75" y1="157.70" x2="478.25" y2="157.70" stroke="#4a4a4a" stroke-width="1.0" />
<line x1="475.50" y1="155.10" x2="475.50" y2="160.30" stroke="#4a4a4a" stroke-width="1.0" />
<rect x="481.90" y="151.45" width="10.40" height="10.30" fill="#f3d670" stroke="none" stroke-width="0" />
<line x1="484.35" y1="157.70" x2="489.85" y2="157.70" stroke="#4a4a4a" stroke-width="1.0" />
<line x1="487.10" y1="155.10" x2="487.10" y2="160.30" stroke="#4a4a4a" stroke-width="1.0" />
<rect x="493.50" y="151.45" width="10.40" height="10.30" fill="#f5df96" stroke="none" stroke-width="0" />
<line x1="495.95" y1="157.70" x2="501.45" y2="157.70" stroke="#4a4a4a" stroke-width="1.0" />
<line x1="498.70" y1="155.10" x2="498.70" y2="160.30" stroke="#4a4a4a" stroke-width="1.0" />
<rect x="505.10" y="151.45" width="10.40" height="10.30" fill="#fcf4dc" stroke="none" stroke-width="0" />
<line x1="507.55" y1="157.70" x2="513.05" y2="157.70" stroke="#4a4a4a" stroke-width="1.0" />
<line x1="510.30" y1="155.10" x2="510.30" y2="160.30" stroke="#4a4a4a" stroke-width="1.0" />
<text x="520.50" y="161.10" font-size="9.9" text-anchor="start" fill="#000" stroke="#000" stroke-width="0.1">Megasphaera sp. MJR8396C</text>
<rect x="470.30" y="163.00" width="10.40" height="10.30" fill="#f4da7c" stroke="none" stroke-width="0" />
<line x1="472.75" y1="169.25" x2="478.25" y2="169.25" stroke="#4a4a4a" stroke-width="1.0" />
<line x1="475.50" y1="166.65" x2="475.50" y2="171.85" stroke="#4a4a4a" stroke-width="1.0" />
<rect x="481.90" y="163.00" width="10.40" height="10.30" fill="#e3eff4" stroke="none" stroke-width="0" />
<rect x="493.50" y="163.00" width="10.40" height="10.30" fill="#f9ecc0" stroke="none" stroke-width="0" />
<line x1="495.95" y1="169.25" x2="501.45" y2="169.25" stroke="#4a4a4a" stroke-width="1.0" />
<line x1="498.70" y1="166.65" x2="498.70" y2="171.85" stroke="#4a4a4a" stroke-width="1.0" />
<rect x="505.10" y="163.00" width="10.40" height="10.30" fill="#e3eff4" stroke="none" stroke-width="0" />
<text x="520.50" y="172.65" font-size="9.9" text-anchor="start" fill="#000" stroke="#000" stroke-width="0.1">Alistipes sp. 58-9-plus</text>
<rect x="470.30" y="174.55" width="10.40" height="10.30" fill="#f2d668" stroke="none" stroke-width="0" />
<line x1="472.75" y1="180.80" x2="478.25" y2="180.80" stroke="#4a4a4a" stroke-width="1.0" />
<line x1="475.50" y1="178.20" x2="475.50" y2="183.40" stroke="#4a4a4a" stroke-width="1.0" />
<rect x="481.90" y="174.55" width="10.40" height="10.30" fill="#f6e298" stroke="none" stroke-width="0" />
<line x1="484.35" y1="180.80" x2="489.85" y2="180.80" stroke="#4a4a4a" stroke-width="1.0" />
<line x1="487.10" y1="178.20" x2="487.10" y2="183.40" stroke="#4a4a4a" stroke-width="1.0" />
<rect x="493.50" y="174.55" width="10.40" height="10.30" fill="#f9ebbc" stroke="none" stroke-width="0" />
<line x1="495.95" y1="180.80" x2="501.45" y2="180.80" stroke="#4a4a4a" stroke-width="1.0" />
<line x1="498.70" y1="178.20" x2="498.70" y2="183.40" stroke="#4a4a4a" stroke-width="1.0" />
<rect x="505.10" y="174.55" width="10.40" height="10.30" fill="#f8e8b4" stroke="none" stroke-width="0" />
<line x1="507.55" y1="180.80" x2="513.05" y2="180.80" stroke="#4a4a4a" stroke-width="1.0" />
<line x1="510.30" y1="178.20" x2="510.30" y2="183.40" stroke="#4a4a4a" stroke-width="1.0" />
<text x="520.50" y="184.20" font-size="9.9" text-anchor="start" fill="#000" stroke="#000" stroke-width="0.1">Bacteroides cellulosilyticus</text>
<rect x="470.30" y="186.10" width="10.40" height="10.30" fill="#f9ebbc" stroke="none" stroke-width="0" />
<line x1="472.75" y1="192.35" x2="478.25" y2="192.35" stroke="#4a4a4a" stroke-width="1.0" />
<line x1="475.50" y1="189.75" x2="475.50" y2="194.95" stroke="#4a4a4a" stroke-width="1.0" />
<rect x="481.90" y="186.10" width="10.40" height="10.30" fill="#f4d982" stroke="none" stroke-width="0" />
<line x1="484.35" y1="192.35" x2="489.85" y2="192.35" stroke="#4a4a4a" stroke-width="1.0" />
<line x1="487.10" y1="189.75" x2="487.10" y2="194.95" stroke="#4a4a4a" stroke-width="1.0" />
<rect x="493.50" y="186.10" width="10.40" height="10.30" fill="#f8e8b4" stroke="none" stroke-width="0" />
<line x1="495.95" y1="192.35" x2="501.45" y2="192.35" stroke="#4a4a4a" stroke-width="1.0" />
<line x1="498.70" y1="189.75" x2="498.70" y2="194.95" stroke="#4a4a4a" stroke-width="1.0" />
<rect x="505.10" y="186.10" width="10.40" height="10.30" fill="#fcf5e0" stroke="none" stroke-width="0" />
<line x1="507.55" y1="192.35" x2="513.05" y2="192.35" stroke="#4a4a4a" stroke-width="1.0" />
<line x1="510.30" y1="189.75" x2="510.30" y2="194.95" stroke="#4a4a4a" stroke-width="1.0" />
<text x="520.50" y="195.75" font-size="9.9" text-anchor="start" fill="#000" stroke="#000" stroke-width="0.1">Phascolarctobacterium sp. CAG-266</text>
<rect x="470.30" y="197.65" width="10.40" height="10.30" fill="#e3eff4" stroke="none" stroke-width="0" />
<rect x="481.90" y="197.65" width="10.40" height="10.30" fill="#e3eff4" stroke="none" stroke-width="0" />
<rect x="493.50" y="197.65" width="10.40" height="10.30" fill="#e3eff4" stroke="none" stroke-width="0" />
<rect x="505.10" y="197.65" width="10.40" height="10.30" fill="#f8e6ac" stroke="none" stroke-width="0" />
<line x1="507.55" y1="203.90" x2="513.05" y2="203.90" stroke="#4a4a4a" stroke-width="1.0" />
<line x1="510.30" y1="201.30" x2="510.30" y2="206.50" stroke="#4a4a4a" stroke-width="1.0" />
<text x="520.50" y="207.30" font-size="9.9" text-anchor="start" fill="#000" stroke="#000" stroke-width="0.1">Ruminococcaceae bacterium D5</text>
<rect x="470.30" y="209.20" width="10.40" height="10.30" fill="#f3d778" stroke="none" stroke-width="0" />
<line x1="472.75" y1="215.45" x2="478.25" y2="215.45" stroke="#4a4a4a" stroke-width="1.0" />
<line x1="475.50" y1="212.85" x2="475.50" y2="218.05" stroke="#4a4a4a" stroke-width="1.0" />
<rect x="481.90" y="209.20" width="10.40" height="10.30" fill="#fcf3d8" stroke="none" stroke-width="0" />
<line x1="484.35" y1="215.45" x2="489.85" y2="215.45" stroke="#4a4a4a" stroke-width="1.0" />
<line x1="487.10" y1="212.85" x2="487.10" y2="218.05" stroke="#4a4a4a" stroke-width="1.0" />
<rect x="493.50" y="209.20" width="10.40" height="10.30" fill="#e3eff4" stroke="none" stroke-width="0" />
<rect x="505.10" y="209.20" width="10.40" height="10.30" fill="#fcf4dc" stroke="none" stroke-width="0" />
<line x1="507.55" y1="215.45" x2="513.05" y2="215.45" stroke="#4a4a4a" stroke-width="1.0" />
<line x1="510.30" y1="212.85" x2="510.30" y2="218.05" stroke="#4a4a4a" stroke-width="1.0" />
<text x="520.50" y="218.85" font-size="9.9" text-anchor="start" fill="#000" stroke="#000" stroke-width="0.1">Butyricimonas sp.</text>
<rect x="470.30" y="220.75" width="10.40" height="10.30" fill="#f9eabc" stroke="none" stroke-width="0" />
<line x1="472.75" y1="227.00" x2="478.25" y2="227.00" stroke="#4a4a4a" stroke-width="1.0" />
<line x1="475.50" y1="224.40" x2="475.50" y2="229.60" stroke="#4a4a4a" stroke-width="1.0" />
<rect x="481.90" y="220.75" width="10.40" height="10.30" fill="#fcf3d8" stroke="none" stroke-width="0" />
<line x1="484.35" y1="227.00" x2="489.85" y2="227.00" stroke="#4a4a4a" stroke-width="1.0" />
<line x1="487.10" y1="224.40" x2="487.10" y2="229.60" stroke="#4a4a4a" stroke-width="1.0" />
<rect x="493.50" y="220.75" width="10.40" height="10.30" fill="#f5dc88" stroke="none" stroke-width="0" />
<line x1="495.95" y1="227.00" x2="501.45" y2="227.00" stroke="#4a4a4a" stroke-width="1.0" />
<line x1="498.70" y1="224.40" x2="498.70" y2="229.60" stroke="#4a4a4a" stroke-width="1.0" />
<rect x="505.10" y="220.75" width="10.40" height="10.30" fill="#e3eff4" stroke="none" stroke-width="0" />
<text x="520.50" y="230.40" font-size="9.9" text-anchor="start" fill="#000" stroke="#000" stroke-width="0.1">Firmicutes bacterium CAG-24053-14</text>
<rect x="470.30" y="232.30" width="10.40" height="10.30" fill="#fbf0cc" stroke="none" stroke-width="0" />
<line x1="472.75" y1="238.55" x2="478.25" y2="238.55" stroke="#4a4a4a" stroke-width="1.0" />
<line x1="475.50" y1="235.95" x2="475.50" y2="241.15" stroke="#4a4a4a" stroke-width="1.0" />
<rect x="481.90" y="232.30" width="10.40" height="10.30" fill="#fbf0cc" stroke="none" stroke-width="0" />
<line x1="484.35" y1="238.55" x2="489.85" y2="238.55" stroke="#4a4a4a" stroke-width="1.0" />
<line x1="487.10" y1="235.95" x2="487.10" y2="241.15" stroke="#4a4a4a" stroke-width="1.0" />
<rect x="493.50" y="232.30" width="10.40" height="10.30" fill="#f5dc88" stroke="none" stroke-width="0" />
<line x1="495.95" y1="238.55" x2="501.45" y2="238.55" stroke="#4a4a4a" stroke-width="1.0" />
<line x1="498.70" y1="235.95" x2="498.70" y2="241.15" stroke="#4a4a4a" stroke-width="1.0" />
<rect x="505.10" y="232.30" width="10.40" height="10.30" fill="#e3eff4" stroke="none" stroke-width="0" />
<text x="520.50" y="241.95" font-size="9.9" text-anchor="start" fill="#000" stroke="#000" stroke-width="0.1">Firmicutes bacterium CAG-129</text>
<rect x="470.30" y="243.85" width="10.40" height="10.30" fill="#f6e098" stroke="none" stroke-width="0" />
<line x1="472.75" y1="250.10" x2="478.25" y2="250.10" stroke="#4a4a4a" stroke-width="1.0" />
<line x1="475.50" y1="247.50" x2="475.50" y2="252.70" stroke="#4a4a4a" stroke-width="1.0" />
<rect x="481.90" y="243.85" width="10.40" height="10.30" fill="#e3eff4" stroke="none" stroke-width="0" />
<rect x="493.50" y="243.85" width="10.40" height="10.30" fill="#fcf4dc" stroke="none" stroke-width="0" />
<line x1="495.95" y1="250.10" x2="501.45" y2="250.10" stroke="#4a4a4a" stroke-width="1.0" />
<line x1="498.70" y1="247.50" x2="498.70" y2="252.70" stroke="#4a4a4a" stroke-width="1.0" />
<rect x="505.10" y="243.85" width="10.40" height="10.30" fill="#f8e8b0" stroke="none" stroke-width="0" />
<line x1="507.55" y1="250.10" x2="513.05" y2="250.10" stroke="#4a4a4a" stroke-width="1.0" />
<line x1="510.30" y1="247.50" x2="510.30" y2="252.70" stroke="#4a4a4a" stroke-width="1.0" />
<text x="520.50" y="253.50" font-size="9.9" text-anchor="start" fill="#000" stroke="#000" stroke-width="0.1">Odoribacter splanchnicus</text>
<rect x="470.30" y="255.40" width="10.40" height="10.30" fill="#fbf0cc" stroke="none" stroke-width="0" />
<line x1="472.75" y1="261.65" x2="478.25" y2="261.65" stroke="#4a4a4a" stroke-width="1.0" />
<line x1="475.50" y1="259.05" x2="475.50" y2="264.25" stroke="#4a4a4a" stroke-width="1.0" />
<rect x="481.90" y="255.40" width="10.40" height="10.30" fill="#e3eff4" stroke="none" stroke-width="0" />
<rect x="493.50" y="255.40" width="10.40" height="10.30" fill="#f8e6a8" stroke="none" stroke-width="0" />
<line x1="495.95" y1="261.65" x2="501.45" y2="261.65" stroke="#4a4a4a" stroke-width="1.0" />
<line x1="498.70" y1="259.05" x2="498.70" y2="264.25" stroke="#4a4a4a" stroke-width="1.0" />
<rect x="505.10" y="255.40" width="10.40" height="10.30" fill="#e3eff4" stroke="none" stroke-width="0" />
<text x="520.50" y="265.05" font-size="9.9" text-anchor="start" fill="#000" stroke="#000" stroke-width="0.1">Firmicutes bacterium CAG-110</text>
<rect x="470.30" y="266.95" width="10.40" height="10.30" fill="#f3d676" stroke="none" stroke-width="0" />
<line x1="472.75" y1="273.20" x2="478.25" y2="273.20" stroke="#4a4a4a" stroke-width="1.0" />
<line x1="475.50" y1="270.60" x2="475.50" y2="275.80" stroke="#4a4a4a" stroke-width="1.0" />
<rect x="481.90" y="266.95" width="10.40" height="10.30" fill="#e3eff4" stroke="none" stroke-width="0" />
<rect x="493.50" y="266.95" width="10.40" height="10.30" fill="#fbf0d0" stroke="none" stroke-width="0" />
<line x1="495.95" y1="273.20" x2="501.45" y2="273.20" stroke="#4a4a4a" stroke-width="1.0" />
<line x1="498.70" y1="270.60" x2="498.70" y2="275.80" stroke="#4a4a4a" stroke-width="1.0" />
<rect x="505.10" y="266.95" width="10.40" height="10.30" fill="#fbf0d0" stroke="none" stroke-width="0" />
<line x1="507.55" y1="273.20" x2="513.05" y2="273.20" stroke="#4a4a4a" stroke-width="1.0" />
<line x1="510.30" y1="270.60" x2="510.30" y2="275.80" stroke="#4a4a4a" stroke-width="1.0" />
<text x="520.50" y="276.60" font-size="9.9" text-anchor="start" fill="#000" stroke="#000" stroke-width="0.1">Sanguibacteroides justesenii</text>
<rect x="470.30" y="278.50" width="10.40" height="10.30" fill="#e3eff4" stroke="none" stroke-width="0" />
<rect x="481.90" y="278.50" width="10.40" height="10.30" fill="#e3eff4" stroke="none" stroke-width="0" />
<rect x="493.50" y="278.50" width="10.40" height="10.30" fill="#e3eff4" stroke="none" stroke-width="0" />
<rect x="505.10" y="278.50" width="10.40" height="10.30" fill="#f8e8b0" stroke="none" stroke-width="0" />
<line x1="507.55" y1="284.75" x2="513.05" y2="284.75" stroke="#4a4a4a" stroke-width="1.0" />
<line x1="510.30" y1="282.15" x2="510.30" y2="287.35" stroke="#4a4a4a" stroke-width="1.0" />
<text x="520.50" y="288.15" font-size="9.9" text-anchor="start" fill="#000" stroke="#000" stroke-width="0.1">Catenibacterium mitsuokai</text>
<rect x="470.30" y="290.05" width="10.40" height="10.30" fill="#f7e4a4" stroke="none" stroke-width="0" />
<line x1="472.75" y1="296.30" x2="478.25" y2="296.30" stroke="#4a4a4a" stroke-width="1.0" />
<line x1="475.50" y1="293.70" x2="475.50" y2="298.90" stroke="#4a4a4a" stroke-width="1.0" />
<rect x="481.90" y="290.05" width="10.40" height="10.30" fill="#e3eff4" stroke="none" stroke-width="0" />
<rect x="493.50" y="290.05" width="10.40" height="10.30" fill="#fbf0d0" stroke="none" stroke-width="0" />
<line x1="495.95" y1="296.30" x2="501.45" y2="296.30" stroke="#4a4a4a" stroke-width="1.0" />
<line x1="498.70" y1="293.70" x2="498.70" y2="298.90" stroke="#4a4a4a" stroke-width="1.0" />
<rect x="505.10" y="290.05" width="10.40" height="10.30" fill="#e3eff4" stroke="none" stroke-width="0" />
<text x="520.50" y="299.70" font-size="9.9" text-anchor="start" fill="#000" stroke="#000" stroke-width="0.1">Firmicutes bacterium CAG-124</text>
<rect x="470.30" y="301.60" width="10.40" height="10.30" fill="#e3eff4" stroke="none" stroke-width="0" />
<rect x="481.90" y="301.60" width="10.40" height="10.30" fill="#e3eff4" stroke="none" stroke-width="0" />
<rect x="493.50" y="301.60" width="10.40" height="10.30" fill="#faeec8" stroke="none" stroke-width="0" />
<line x1="495.95" y1="307.85" x2="501.45" y2="307.85" stroke="#4a4a4a" stroke-width="1.0" />
<line x1="498.70" y1="305.25" x2="498.70" y2="310.45" stroke="#4a4a4a" stroke-width="1.0" />
<rect x="505.10" y="301.60" width="10.40" height="10.30" fill="#f9eabc" stroke="none" stroke-width="0" />
<line x1="507.55" y1="307.85" x2="513.05" y2="307.85" stroke="#4a4a4a" stroke-width="1.0" />
<line x1="510.30" y1="305.25" x2="510.30" y2="310.45" stroke="#4a4a4a" stroke-width="1.0" />
<text x="520.50" y="311.25" font-size="9.9" text-anchor="start" fill="#000" stroke="#000" stroke-width="0.1">Dorea longicatena</text>
<rect x="470.30" y="313.15" width="10.40" height="10.30" fill="#e3eff4" stroke="none" stroke-width="0" />
<rect x="481.90" y="313.15" width="10.40" height="10.30" fill="#e3eff4" stroke="none" stroke-width="0" />
<rect x="493.50" y="313.15" width="10.40" height="10.30" fill="#faeec8" stroke="none" stroke-width="0" />
<line x1="495.95" y1="319.40" x2="501.45" y2="319.40" stroke="#4a4a4a" stroke-width="1.0" />
<line x1="498.70" y1="316.80" x2="498.70" y2="322.00" stroke="#4a4a4a" stroke-width="1.0" />
<rect x="505.10" y="313.15" width="10.40" height="10.30" fill="#f9eabc" stroke="none" stroke-width="0" />
<line x1="507.55" y1="319.40" x2="513.05" y2="319.40" stroke="#4a4a4a" stroke-width="1.0" />
<line x1="510.30" y1="316.80" x2="510.30" y2="322.00" stroke="#4a4a4a" stroke-width="1.0" />
<text x="520.50" y="322.80" font-size="9.9" text-anchor="start" fill="#000" stroke="#000" stroke-width="0.1">Coprobacter fastidiosus</text>
<rect x="470.30" y="324.70" width="10.40" height="10.30" fill="#f8e8b0" stroke="none" stroke-width="0" />
<line x1="472.75" y1="330.95" x2="478.25" y2="330.95" stroke="#4a4a4a" stroke-width="1.0" />
<line x1="475.50" y1="328.35" x2="475.50" y2="333.55" stroke="#4a4a4a" stroke-width="1.0" />
<rect x="481.90" y="324.70" width="10.40" height="10.30" fill="#e3eff4" stroke="none" stroke-width="0" />
<rect x="493.50" y="324.70" width="10.40" height="10.30" fill="#e3eff4" stroke="none" stroke-width="0" />
<rect x="505.10" y="324.70" width="10.40" height="10.30" fill="#e3eff4" stroke="none" stroke-width="0" />
<text x="520.50" y="334.35" font-size="9.9" text-anchor="start" fill="#000" stroke="#000" stroke-width="0.1">Clostridium sp. CAG-273</text>
<rect x="470.30" y="336.25" width="10.40" height="10.30" fill="#fbf0d0" stroke="none" stroke-width="0" />
<line x1="472.75" y1="342.50" x2="478.25" y2="342.50" stroke="#4a4a4a" stroke-width="1.0" />
<line x1="475.50" y1="339.90" x2="475.50" y2="345.10" stroke="#4a4a4a" stroke-width="1.0" />
<rect x="481.90" y="336.25" width="10.40" height="10.30" fill="#faeec8" stroke="none" stroke-width="0" />
<line x1="484.35" y1="342.50" x2="489.85" y2="342.50" stroke="#4a4a4a" stroke-width="1.0" />
<line x1="487.10" y1="339.90" x2="487.10" y2="345.10" stroke="#4a4a4a" stroke-width="1.0" />
<rect x="493.50" y="336.25" width="10.40" height="10.30" fill="#faeec8" stroke="none" stroke-width="0" />
<line x1="495.95" y1="342.50" x2="501.45" y2="342.50" stroke="#4a4a4a" stroke-width="1.0" />
<line x1="498.70" y1="339.90" x2="498.70" y2="345.10" stroke="#4a4a4a" stroke-width="1.0" />
<rect x="505.10" y="336.25" width="10.40" height="10.30" fill="#f4d984" stroke="none" stroke-width="0" />
<line x1="507.55" y1="342.50" x2="513.05" y2="342.50" stroke="#4a4a4a" stroke-width="1.0" />
<line x1="510.30" y1="339.90" x2="510.30" y2="345.10" stroke="#4a4a4a" stroke-width="1.0" />
<text x="520.50" y="345.90" font-size="9.9" text-anchor="start" fill="#000" stroke="#000" stroke-width="0.1">Ruminococcus callidus</text>
<rect x="470.30" y="347.80" width="10.40" height="10.30" fill="#f4dc88" stroke="none" stroke-width="0" />
<line x1="472.75" y1="354.05" x2="478.25" y2="354.05" stroke="#4a4a4a" stroke-width="1.0" />
<line x1="475.50" y1="351.45" x2="475.50" y2="356.65" stroke="#4a4a4a" stroke-width="1.0" />
<rect x="481.90" y="347.80" width="10.40" height="10.30" fill="#fcf6e4" stroke="none" stroke-width="0" />
<line x1="484.35" y1="354.05" x2="489.85" y2="354.05" stroke="#4a4a4a" stroke-width="1.0" />
<line x1="487.10" y1="351.45" x2="487.10" y2="356.65" stroke="#4a4a4a" stroke-width="1.0" />
<rect x="493.50" y="347.80" width="10.40" height="10.30" fill="#f9ebc0" stroke="none" stroke-width="0" />
<line x1="495.95" y1="354.05" x2="501.45" y2="354.05" stroke="#4a4a4a" stroke-width="1.0" />
<line x1="498.70" y1="351.45" x2="498.70" y2="356.65" stroke="#4a4a4a" stroke-width="1.0" />
<rect x="505.10" y="347.80" width="10.40" height="10.30" fill="#e3eff4" stroke="none" stroke-width="0" />
<text x="520.50" y="357.45" font-size="9.9" text-anchor="start" fill="#000" stroke="#000" stroke-width="0.1">Eggerthella sp. CAG-298</text>
<rect x="470.30" y="359.35" width="10.40" height="10.30" fill="#f5df94" stroke="none" stroke-width="0" />
<line x1="472.75" y1="365.60" x2="478.25" y2="365.60" stroke="#4a4a4a" stroke-width="1.0" />
<line x1="475.50" y1="363.00" x2="475.50" y2="368.20" stroke="#4a4a4a" stroke-width="1.0" />
<rect x="481.90" y="359.35" width="10.40" height="10.30" fill="#f6e2a0" stroke="none" stroke-width="0" />
<line x1="484.35" y1="365.60" x2="489.85" y2="365.60" stroke="#4a4a4a" stroke-width="1.0" />
<line x1="487.10" y1="363.00" x2="487.10" y2="368.20" stroke="#4a4a4a" stroke-width="1.0" />
<rect x="493.50" y="359.35" width="10.40" height="10.30" fill="#fdf8ea" stroke="none" stroke-width="0" />
<line x1="495.95" y1="365.60" x2="501.45" y2="365.60" stroke="#4a4a4a" stroke-width="1.0" />
<line x1="498.70" y1="363.00" x2="498.70" y2="368.20" stroke="#4a4a4a" stroke-width="1.0" />
<rect x="505.10" y="359.35" width="10.40" height="10.30" fill="#e3eff4" stroke="none" stroke-width="0" />
<text x="520.50" y="369.00" font-size="9.9" text-anchor="start" fill="#000" stroke="#000" stroke-width="0.1">Barnesiella intestinihominis</text>
<rect x="470.30" y="370.90" width="10.40" height="10.30" fill="#faeec8" stroke="none" stroke-width="0" />
<line x1="472.75" y1="377.15" x2="478.25" y2="377.15" stroke="#4a4a4a" stroke-width="1.0" />
<line x1="475.50" y1="374.55" x2="475.50" y2="379.75" stroke="#4a4a4a" stroke-width="1.0" />
<rect x="481.90" y="370.90" width="10.40" height="10.30" fill="#e3eff4" stroke="none" stroke-width="0" />
<rect x="493.50" y="370.90" width="10.40" height="10.30" fill="#e3eff4" stroke="none" stroke-width="0" />
<rect x="505.10" y="370.90" width="10.40" height="10.30" fill="#e3eff4" stroke="none" stroke-width="0" />
<text x="520.50" y="380.55" font-size="9.9" text-anchor="start" fill="#000" stroke="#000" stroke-width="0.1">Alistipes inops</text>
<rect x="470.30" y="382.45" width="10.40" height="10.30" fill="#e3eff4" stroke="none" stroke-width="0" />
<rect x="481.90" y="382.45" width="10.40" height="10.30" fill="#f9ecc0" stroke="none" stroke-width="0" />
<line x1="484.35" y1="388.70" x2="489.85" y2="388.70" stroke="#4a4a4a" stroke-width="1.0" />
<line x1="487.10" y1="386.10" x2="487.10" y2="391.30" stroke="#4a4a4a" stroke-width="1.0" />
<rect x="493.50" y="382.45" width="10.40" height="10.30" fill="#e3eff4" stroke="none" stroke-width="0" />
<rect x="505.10" y="382.45" width="10.40" height="10.30" fill="#e3eff4" stroke="none" stroke-width="0" />
<text x="520.50" y="392.10" font-size="9.9" text-anchor="start" fill="#000" stroke="#000" stroke-width="0.1">Brachyspira sp. CAG-700</text>
<rect x="470.30" y="394.00" width="10.40" height="10.30" fill="#e3eff4" stroke="none" stroke-width="0" />
<rect x="481.90" y="394.00" width="10.40" height="10.30" fill="#e3eff4" stroke="none" stroke-width="0" />
<rect x="493.50" y="394.00" width="10.40" height="10.30" fill="#f9ebbc" stroke="none" stroke-width="0" />
<line x1="495.95" y1="400.25" x2="501.45" y2="400.25" stroke="#4a4a4a" stroke-width="1.0" />
<line x1="498.70" y1="397.65" x2="498.70" y2="402.85" stroke="#4a4a4a" stroke-width="1.0" />
<rect x="505.10" y="394.00" width="10.40" height="10.30" fill="#e3eff4" stroke="none" stroke-width="0" />
<text x="520.50" y="403.65" font-size="9.9" text-anchor="start" fill="#000" stroke="#000" stroke-width="0.1">Firmicutes bacterium CAG-65-45-313</text>
<rect x="470.30" y="405.55" width="10.40" height="10.30" fill="#e3eff4" stroke="none" stroke-width="0" />
<rect x="481.90" y="405.55" width="10.40" height="10.30" fill="#e3eff4" stroke="none" stroke-width="0" />
<rect x="493.50" y="405.55" width="10.40" height="10.30" fill="#e3eff4" stroke="none" stroke-width="0" />
<rect x="505.10" y="405.55" width="10.40" height="10.30" fill="#fbf0d0" stroke="none" stroke-width="0" />
<line x1="507.55" y1="411.80" x2="513.05" y2="411.80" stroke="#4a4a4a" stroke-width="1.0" />
<line x1="510.30" y1="409.20" x2="510.30" y2="414.40" stroke="#4a4a4a" stroke-width="1.0" />
<text x="520.50" y="415.20" font-size="9.9" text-anchor="start" fill="#000" stroke="#000" stroke-width="0.1">Parabacteroides distasonis</text>
<rect x="470.30" y="417.10" width="10.40" height="10.30" fill="#f9ecc0" stroke="none" stroke-width="0" />
<line x1="472.75" y1="423.35" x2="478.25" y2="423.35" stroke="#4a4a4a" stroke-width="1.0" />
<line x1="475.50" y1="420.75" x2="475.50" y2="425.95" stroke="#4a4a4a" stroke-width="1.0" />
<rect x="481.90" y="417.10" width="10.40" height="10.30" fill="#e3eff4" stroke="none" stroke-width="0" />
<rect x="493.50" y="417.10" width="10.40" height="10.30" fill="#e3eff4" stroke="none" stroke-width="0" />
<rect x="505.10" y="417.10" width="10.40" height="10.30" fill="#e3eff4" stroke="none" stroke-width="0" />
<text x="520.50" y="426.75" font-size="9.9" text-anchor="start" fill="#000" stroke="#000" stroke-width="0.1">Firmicutes bacterium AM10-47</text>
<rect x="470.30" y="428.65" width="10.40" height="10.30" fill="#e3eff4" stroke="none" stroke-width="0" />
<rect x="481.90" y="428.65" width="10.40" height="10.30" fill="#80bccb" stroke="none" stroke-width="0" />
<line x1="484.40" y1="434.90" x2="489.80" y2="434.90" stroke="#4a4a4a" stroke-width="1.2" />
<rect x="493.50" y="428.65" width="10.40" height="10.30" fill="#b0d8e2" stroke="none" stroke-width="0" />
<line x1="496.00" y1="434.90" x2="501.40" y2="434.90" stroke="#4a4a4a" stroke-width="1.2" />
<rect x="505.10" y="428.65" width="10.40" height="10.30" fill="#94c8d4" stroke="none" stroke-width="0" />
<line x1="507.60" y1="434.90" x2="513.00" y2="434.90" stroke="#4a4a4a" stroke-width="1.2" />
<text x="520.50" y="438.30" font-size="9.9" text-anchor="start" fill="#000" stroke="#000" stroke-width="0.1">Clostridium sp. AF36-4</text>
<rect x="470.30" y="440.20" width="10.40" height="10.30" fill="#e3eff4" stroke="none" stroke-width="0" />
<rect x="481.90" y="440.20" width="10.40" height="10.30" fill="#94c6d3" stroke="none" stroke-width="0" />
<line x1="484.40" y1="446.45" x2="489.80" y2="446.45" stroke="#4a4a4a" stroke-width="1.2" />
<rect x="493.50" y="440.20" width="10.40" height="10.30" fill="#e3eff4" stroke="none" stroke-width="0" />
<rect x="505.10" y="440.20" width="10.40" height="10.30" fill="#84c0cd" stroke="none" stroke-width="0" />
<line x1="507.60" y1="446.45" x2="513.00" y2="446.45" stroke="#4a4a4a" stroke-width="1.2" />
<text x="520.50" y="449.85" font-size="9.9" text-anchor="start" fill="#000" stroke="#000" stroke-width="0.1">Intestinibacter bartlettii</text>
<rect x="470.30" y="451.75" width="10.40" height="10.30" fill="#e3eff4" stroke="none" stroke-width="0" />
<rect x="481.90" y="451.75" width="10.40" height="10.30" fill="#98c9d5" stroke="none" stroke-width="0" />
<line x1="484.40" y1="458.00" x2="489.80" y2="458.00" stroke="#4a4a4a" stroke-width="1.2" />
<rect x="493.50" y="451.75" width="10.40" height="10.30" fill="#e3eff4" stroke="none" stroke-width="0" />
<rect x="505.10" y="451.75" width="10.40" height="10.30" fill="#e3eff4" stroke="none" stroke-width="0" />
<text x="520.50" y="461.40" font-size="9.9" text-anchor="start" fill="#000" stroke="#000" stroke-width="0.1">Veillonella parvula</text>
<rect x="470.30" y="463.30" width="10.40" height="10.30" fill="#94c6d3" stroke="none" stroke-width="0" />
<line x1="472.80" y1="469.55" x2="478.20" y2="469.55" stroke="#4a4a4a" stroke-width="1.2" />
<rect x="481.90" y="463.30" width="10.40" height="10.30" fill="#90c4d1" stroke="none" stroke-width="0" />
<line x1="484.40" y1="469.55" x2="489.80" y2="469.55" stroke="#4a4a4a" stroke-width="1.2" />
<rect x="493.50" y="463.30" width="10.40" height="10.30" fill="#e3eff4" stroke="none" stroke-width="0" />
<rect x="505.10" y="463.30" width="10.40" height="10.30" fill="#98c9d5" stroke="none" stroke-width="0" />
<line x1="507.60" y1="469.55" x2="513.00" y2="469.55" stroke="#4a4a4a" stroke-width="1.2" />
<text x="520.50" y="472.95" font-size="9.9" text-anchor="start" fill="#000" stroke="#000" stroke-width="0.1">Anaerotruncus colihominis</text>
<rect x="470.30" y="474.85" width="10.40" height="10.30" fill="#e3eff4" stroke="none" stroke-width="0" />
<rect x="481.90" y="474.85" width="10.40" height="10.30" fill="#e3eff4" stroke="none" stroke-width="0" />
<rect x="493.50" y="474.85" width="10.40" height="10.30" fill="#e3eff4" stroke="none" stroke-width="0" />
<rect x="505.10" y="474.85" width="10.40" height="10.30" fill="#8cc4d0" stroke="none" stroke-width="0" />
<line x1="507.60" y1="481.10" x2="513.00" y2="481.10" stroke="#4a4a4a" stroke-width="1.2" />
<text x="520.50" y="484.50" font-size="9.9" text-anchor="start" fill="#000" stroke="#000" stroke-width="0.1">Dialister invisus</text>
<rect x="470.30" y="486.40" width="10.40" height="10.30" fill="#e3eff4" stroke="none" stroke-width="0" />
<rect x="481.90" y="486.40" width="10.40" height="10.30" fill="#94c6d3" stroke="none" stroke-width="0" />
<line x1="484.40" y1="492.65" x2="489.80" y2="492.65" stroke="#4a4a4a" stroke-width="1.2" />
<rect x="493.50" y="486.40" width="10.40" height="10.30" fill="#e3eff4" stroke="none" stroke-width="0" />
<rect x="505.10" y="486.40" width="10.40" height="10.30" fill="#84c0cd" stroke="none" stroke-width="0" />
<line x1="507.60" y1="492.65" x2="513.00" y2="492.65" stroke="#4a4a4a" stroke-width="1.2" />
<text x="520.50" y="496.05" font-size="9.9" text-anchor="start" fill="#000" stroke="#000" stroke-width="0.1">Clostridium sp. CAG-221</text>
<rect x="470.30" y="497.95" width="10.40" height="10.30" fill="#e3eff4" stroke="none" stroke-width="0" />
<rect x="481.90" y="497.95" width="10.40" height="10.30" fill="#e3eff4" stroke="none" stroke-width="0" />
<rect x="493.50" y="497.95" width="10.40" height="10.30" fill="#e3eff4" stroke="none" stroke-width="0" />
<rect x="505.10" y="497.95" width="10.40" height="10.30" fill="#94c8d4" stroke="none" stroke-width="0" />
<line x1="507.60" y1="504.20" x2="513.00" y2="504.20" stroke="#4a4a4a" stroke-width="1.2" />
<text x="520.50" y="507.60" font-size="9.9" text-anchor="start" fill="#000" stroke="#000" stroke-width="0.1">Ruminococcus bicirculans</text>
<rect x="470.30" y="509.50" width="10.40" height="10.30" fill="#74b4c6" stroke="none" stroke-width="0" />
<line x1="472.80" y1="515.75" x2="478.20" y2="515.75" stroke="#4a4a4a" stroke-width="1.2" />
<rect x="481.90" y="509.50" width="10.40" height="10.30" fill="#94c6d2" stroke="none" stroke-width="0" />
<line x1="484.40" y1="515.75" x2="489.80" y2="515.75" stroke="#4a4a4a" stroke-width="1.2" />
<rect x="493.50" y="509.50" width="10.40" height="10.30" fill="#5aa8bf" stroke="none" stroke-width="0" />
<line x1="496.00" y1="515.75" x2="501.40" y2="515.75" stroke="#4a4a4a" stroke-width="1.2" />
<rect x="505.10" y="509.50" width="10.40" height="10.30" fill="#e3eff4" stroke="none" stroke-width="0" />
<text x="520.50" y="519.15" font-size="9.9" text-anchor="start" fill="#000" stroke="#000" stroke-width="0.1">Clostridium citroniae</text>
<rect x="470.30" y="521.05" width="10.40" height="10.30" fill="#52a2b9" stroke="none" stroke-width="0" />
<line x1="472.80" y1="527.30" x2="478.20" y2="527.30" stroke="#4a4a4a" stroke-width="1.2" />
<rect x="481.90" y="521.05" width="10.40" height="10.30" fill="#e3eff4" stroke="none" stroke-width="0" />
<rect x="493.50" y="521.05" width="10.40" height="10.30" fill="#9ccbd6" stroke="none" stroke-width="0" />
<line x1="496.00" y1="527.30" x2="501.40" y2="527.30" stroke="#4a4a4a" stroke-width="1.2" />
<rect x="505.10" y="521.05" width="10.40" height="10.30" fill="#e3eff4" stroke="none" stroke-width="0" />
<text x="520.50" y="530.70" font-size="9.9" text-anchor="start" fill="#000" stroke="#000" stroke-width="0.1">Roseburia intestinalis</text>
<rect x="470.30" y="532.60" width="10.40" height="10.30" fill="#e3eff4" stroke="none" stroke-width="0" />
<rect x="481.90" y="532.60" width="10.40" height="10.30" fill="#e3eff4" stroke="none" stroke-width="0" />
<rect x="493.50" y="532.60" width="10.40" height="10.30" fill="#72b3c5" stroke="none" stroke-width="0" />
<line x1="496.00" y1="538.85" x2="501.40" y2="538.85" stroke="#4a4a4a" stroke-width="1.2" />
<rect x="505.10" y="532.60" width="10.40" height="10.30" fill="#74b4c6" stroke="none" stroke-width="0" />
<line x1="507.60" y1="538.85" x2="513.00" y2="538.85" stroke="#4a4a4a" stroke-width="1.2" />
<text x="520.50" y="542.25" font-size="9.9" text-anchor="start" fill="#000" stroke="#000" stroke-width="0.1">Bacteroides xylanisolvens</text>
<rect x="470.30" y="544.15" width="10.40" height="10.30" fill="#8cc4d1" stroke="none" stroke-width="0" />
<line x1="472.80" y1="550.40" x2="478.20" y2="550.40" stroke="#4a4a4a" stroke-width="1.2" />
<rect x="481.90" y="544.15" width="10.40" height="10.30" fill="#56a4bb" stroke="none" stroke-width="0" />
<line x1="484.40" y1="550.40" x2="489.80" y2="550.40" stroke="#4a4a4a" stroke-width="1.2" />
<rect x="493.50" y="544.15" width="10.40" height="10.30" fill="#3e97b1" stroke="none" stroke-width="0" />
<line x1="496.00" y1="550.40" x2="501.40" y2="550.40" stroke="#4a4a4a" stroke-width="1.2" />
<rect x="505.10" y="544.15" width="10.40" height="10.30" fill="#a0cdd8" stroke="none" stroke-width="0" />
<line x1="507.60" y1="550.40" x2="513.00" y2="550.40" stroke="#4a4a4a" stroke-width="1.2" />
<text x="520.50" y="553.80" font-size="9.9" text-anchor="start" fill="#000" stroke="#000" stroke-width="0.1">Bacteroides thetaiotaomicron</text>
<rect x="470.30" y="555.70" width="10.40" height="10.30" fill="#78b6c7" stroke="none" stroke-width="0" />
<line x1="472.80" y1="561.95" x2="478.20" y2="561.95" stroke="#4a4a4a" stroke-width="1.2" />
<rect x="481.90" y="555.70" width="10.40" height="10.30" fill="#70b2c4" stroke="none" stroke-width="0" />
<line x1="484.40" y1="561.95" x2="489.80" y2="561.95" stroke="#4a4a4a" stroke-width="1.2" />
<rect x="493.50" y="555.70" width="10.40" height="10.30" fill="#5eaabf" stroke="none" stroke-width="0" />
<line x1="496.00" y1="561.95" x2="501.40" y2="561.95" stroke="#4a4a4a" stroke-width="1.2" />
<rect x="505.10" y="555.70" width="10.40" height="10.30" fill="#62abc0" stroke="none" stroke-width="0" />
<line x1="507.60" y1="561.95" x2="513.00" y2="561.95" stroke="#4a4a4a" stroke-width="1.2" />
<text x="520.50" y="565.35" font-size="9.9" text-anchor="start" fill="#000" stroke="#000" stroke-width="0.1">Monoglobus pectinilyticus</text>
<rect x="470.30" y="567.25" width="10.40" height="10.30" fill="#e3eff4" stroke="none" stroke-width="0" />
<rect x="481.90" y="567.25" width="10.40" height="10.30" fill="#e3eff4" stroke="none" stroke-width="0" />
<rect x="493.50" y="567.25" width="10.40" height="10.30" fill="#e3eff4" stroke="none" stroke-width="0" />
<rect x="505.10" y="567.25" width="10.40" height="10.30" fill="#62acc0" stroke="none" stroke-width="0" />
<line x1="507.60" y1="573.50" x2="513.00" y2="573.50" stroke="#4a4a4a" stroke-width="1.2" />
<text x="520.50" y="576.90" font-size="9.9" text-anchor="start" fill="#000" stroke="#000" stroke-width="0.1">Bacteroides fragilis</text>
<text x="471.00" y="581.90" font-size="9.7" text-anchor="start" fill="#000" transform="rotate(90 471.00 581.90)" >wk6</text>
<text x="483.90" y="581.90" font-size="9.7" text-anchor="start" fill="#000" transform="rotate(90 483.90 581.90)" >wk12</text>
<text x="495.30" y="581.90" font-size="9.7" text-anchor="start" fill="#000" transform="rotate(90 495.30 581.90)" >wk26</text>
<text x="508.00" y="581.90" font-size="9.7" text-anchor="start" fill="#000" transform="rotate(90 508.00 581.90)" >yr4</text>
<defs><linearGradient id="cb" x1="0" x2="1" y1="0" y2="0"><stop offset="0" stop-color="#d44f52"/><stop offset="0.08" stop-color="#d8604f"/><stop offset="0.19" stop-color="#dd7548"/><stop offset="0.27" stop-color="#e2903c"/><stop offset="0.345" stop-color="#e8c024"/><stop offset="0.42" stop-color="#ecce48"/><stop offset="0.47" stop-color="#f0d878"/><stop offset="0.56" stop-color="#f6e8b0"/><stop offset="0.68" stop-color="#ffffff"/><stop offset="0.72" stop-color="#e0eff4"/><stop offset="0.85" stop-color="#88c0cf"/><stop offset="1.0" stop-color="#3890a8"/></linearGradient></defs>
<rect x="536.00" y="606.00" width="147.80" height="10.00" fill="url(#cb)" stroke="none" stroke-width="0" />
<text x="560.80" y="602.30" font-size="8.6" text-anchor="middle" fill="#000" >10</text>
<text x="599.30" y="602.30" font-size="8.6" text-anchor="middle" fill="#000" >5</text>
<text x="637.80" y="602.30" font-size="8.6" text-anchor="middle" fill="#000" >0</text>
<text x="676.30" y="602.30" font-size="8.6" text-anchor="middle" fill="#000" >–5</text>
<text x="611.40" y="627.80" font-size="8.7" text-anchor="middle" fill="#000" >Strength of association</text>
<text x="611.40" y="638.70" font-size="8.7" text-anchor="middle" fill="#000" >-log(qval)*abs(coef)</text>
<rect x="25.50" y="246.00" width="103.25" height="152.50" fill="#fff" stroke="none" stroke-width="0" />
<line x1="25.50" y1="368.88" x2="128.75" y2="368.88" stroke="#ebebeb" stroke-width="0.5" />
<line x1="25.50" y1="323.12" x2="128.75" y2="323.12" stroke="#ebebeb" stroke-width="0.5" />
<line x1="25.50" y1="277.38" x2="128.75" y2="277.38" stroke="#ebebeb" stroke-width="0.5" />
<line x1="25.50" y1="391.75" x2="128.75" y2="391.75" stroke="#ebebeb" stroke-width="0.9" />
<line x1="25.50" y1="346.00" x2="128.75" y2="346.00" stroke="#ebebeb" stroke-width="0.9" />
<line x1="25.50" y1="300.25" x2="128.75" y2="300.25" stroke="#ebebeb" stroke-width="0.9" />
<line x1="25.50" y1="254.50" x2="128.75" y2="254.50" stroke="#ebebeb" stroke-width="0.9" />
<rect x="132.50" y="246.00" width="103.00" height="152.50" fill="#fff" stroke="none" stroke-width="0" />
<line x1="132.50" y1="368.88" x2="235.50" y2="368.88" stroke="#ebebeb" stroke-width="0.5" />
<line x1="132.50" y1="323.12" x2="235.50" y2="323.12" stroke="#ebebeb" stroke-width="0.5" />
<line x1="132.50" y1="277.38" x2="235.50" y2="277.38" stroke="#ebebeb" stroke-width="0.5" />
<line x1="132.50" y1="391.75" x2="235.50" y2="391.75" stroke="#ebebeb" stroke-width="0.9" />
<line x1="132.50" y1="346.00" x2="235.50" y2="346.00" stroke="#ebebeb" stroke-width="0.9" />
<line x1="132.50" y1="300.25" x2="235.50" y2="300.25" stroke="#ebebeb" stroke-width="0.9" />
<line x1="132.50" y1="254.50" x2="235.50" y2="254.50" stroke="#ebebeb" stroke-width="0.9" />
<line x1="37.60" y1="246.00" x2="37.60" y2="398.50" stroke="#ebebeb" stroke-width="0.9" />
<line x1="57.30" y1="246.00" x2="57.30" y2="398.50" stroke="#ebebeb" stroke-width="0.9" />
<line x1="77.10" y1="246.00" x2="77.10" y2="398.50" stroke="#ebebeb" stroke-width="0.9" />
<line x1="96.90" y1="246.00" x2="96.90" y2="398.50" stroke="#ebebeb" stroke-width="0.9" />
<line x1="116.70" y1="246.00" x2="116.70" y2="398.50" stroke="#ebebeb" stroke-width="0.9" />
<line x1="144.25" y1="246.00" x2="144.25" y2="398.50" stroke="#ebebeb" stroke-width="0.9" />
<line x1="164.00" y1="246.00" x2="164.00" y2="398.50" stroke="#ebebeb" stroke-width="0.9" />
<line x1="183.75" y1="246.00" x2="183.75" y2="398.50" stroke="#ebebeb" stroke-width="0.9" />
<line x1="203.75" y1="246.00" x2="203.75" y2="398.50" stroke="#ebebeb" stroke-width="0.9" />
<line x1="223.50" y1="246.00" x2="223.50" y2="398.50" stroke="#ebebeb" stroke-width="0.9" />
<line x1="57.30" y1="266.10" x2="57.30" y2="314.50" stroke="#333333" stroke-width="1.2" />
<line x1="57.30" y1="351.80" x2="57.30" y2="391.60" stroke="#333333" stroke-width="1.2" />
<rect x="49.60" y="314.50" width="15.40" height="37.30" fill="#a6c9d8" stroke="#333333" stroke-width="1.2" />
<line x1="49.60" y1="329.30" x2="65.00" y2="329.30" stroke="#333333" stroke-width="2.1" />
<line x1="77.10" y1="252.70" x2="77.10" y2="311.40" stroke="#333333" stroke-width="1.2" />
<line x1="77.10" y1="355.40" x2="77.10" y2="383.50" stroke="#333333" stroke-width="1.2" />
<rect x="69.20" y="311.40" width="15.80" height="44.00" fill="#a6c9d8" stroke="#333333" stroke-width="1.2" />
<line x1="69.20" y1="326.20" x2="85.00" y2="326.20" stroke="#333333" stroke-width="2.1" />
<line x1="96.95" y1="268.90" x2="96.95" y2="313.10" stroke="#333333" stroke-width="1.2" />
<line x1="96.95" y1="356.40" x2="96.95" y2="391.60" stroke="#333333" stroke-width="1.2" />
<rect x="89.20" y="313.10" width="15.50" height="43.30" fill="#a6c9d8" stroke="#333333" stroke-width="1.2" />
<line x1="89.20" y1="334.60" x2="104.70" y2="334.60" stroke="#333333" stroke-width="2.1" />
<line x1="116.85" y1="277.60" x2="116.85" y2="328.00" stroke="#333333" stroke-width="1.2" />
<line x1="116.85" y1="365.60" x2="116.85" y2="391.60" stroke="#333333" stroke-width="1.2" />
<rect x="108.90" y="328.00" width="15.90" height="37.60" fill="#a6c9d8" stroke="#333333" stroke-width="1.2" />
<line x1="108.90" y1="329.80" x2="124.80" y2="329.80" stroke="#333333" stroke-width="2.1" />
<circle cx="57.60" cy="266.10" r="1.4" fill="#2d8fab" stroke="#000" stroke-width="0.8"/>
<circle cx="56.60" cy="292.50" r="1.4" fill="#2d8fab" stroke="#000" stroke-width="0.8"/>
<circle cx="58.30" cy="294.00" r="1.4" fill="#2d8fab" stroke="#000" stroke-width="0.8"/>
<circle cx="54.50" cy="302.40" r="1.4" fill="#2d8fab" stroke="#000" stroke-width="0.8"/>
<circle cx="59.40" cy="304.50" r="1.4" fill="#2d8fab" stroke="#000" stroke-width="0.8"/>
<circle cx="54.60" cy="306.90" r="1.4" fill="#2d8fab" stroke="#000" stroke-width="0.8"/>
<circle cx="57.20" cy="309.70" r="1.4" fill="#2d8fab" stroke="#000" stroke-width="0.8"/>
<circle cx="50.80" cy="311.40" r="1.4" fill="#2d8fab" stroke="#000" stroke-width="0.8"/>
<circle cx="63.60" cy="311.80" r="1.4" fill="#2d8fab" stroke="#000" stroke-width="0.8"/>
<circle cx="56.60" cy="312.50" r="1.4" fill="#2d8fab" stroke="#000" stroke-width="0.8"/>
<circle cx="52.70" cy="318.20" r="1.4" fill="#2d8fab" stroke="#000" stroke-width="0.8"/>
<circle cx="60.40" cy="315.90" r="1.4" fill="#2d8fab" stroke="#000" stroke-width="0.8"/>
<circle cx="62.50" cy="319.10" r="1.4" fill="#2d8fab" stroke="#000" stroke-width="0.8"/>
<circle cx="54.80" cy="320.50" r="1.4" fill="#2d8fab" stroke="#000" stroke-width="0.8"/>
<circle cx="58.60" cy="321.30" r="1.4" fill="#2d8fab" stroke="#000" stroke-width="0.8"/>
<circle cx="51.25" cy="322.40" r="1.4" fill="#2d8fab" stroke="#000" stroke-width="0.8"/>
<circle cx="63.20" cy="322.40" r="1.4" fill="#2d8fab" stroke="#000" stroke-width="0.8"/>
<circle cx="55.75" cy="324.30" r="1.4" fill="#2d8fab" stroke="#000" stroke-width="0.8"/>
<circle cx="59.00" cy="327.60" r="1.4" fill="#2d8fab" stroke="#000" stroke-width="0.8"/>
<circle cx="59.70" cy="331.10" r="1.4" fill="#2d8fab" stroke="#000" stroke-width="0.8"/>
<circle cx="51.50" cy="342.60" r="1.4" fill="#2d8fab" stroke="#000" stroke-width="0.8"/>
<circle cx="54.80" cy="342.10" r="1.4" fill="#2d8fab" stroke="#000" stroke-width="0.8"/>
<circle cx="57.20" cy="343.75" r="1.4" fill="#2d8fab" stroke="#000" stroke-width="0.8"/>
<circle cx="62.50" cy="342.60" r="1.4" fill="#2d8fab" stroke="#000" stroke-width="0.8"/>
<circle cx="59.40" cy="346.30" r="1.4" fill="#2d8fab" stroke="#000" stroke-width="0.8"/>
<circle cx="52.90" cy="349.40" r="1.4" fill="#2d8fab" stroke="#000" stroke-width="0.8"/>
<circle cx="61.10" cy="350.80" r="1.4" fill="#2d8fab" stroke="#000" stroke-width="0.8"/>
<circle cx="56.20" cy="343.00" r="1.4" fill="#2d8fab" stroke="#000" stroke-width="0.8"/>
<circle cx="52.40" cy="354.70" r="1.4" fill="#2d8fab" stroke="#000" stroke-width="0.8"/>
<circle cx="58.30" cy="353.60" r="1.4" fill="#2d8fab" stroke="#000" stroke-width="0.8"/>
<circle cx="55.75" cy="359.00" r="1.4" fill="#2d8fab" stroke="#000" stroke-width="0.8"/>
<circle cx="60.40" cy="359.00" r="1.4" fill="#2d8fab" stroke="#000" stroke-width="0.8"/>
<circle cx="54.90" cy="372.60" r="1.4" fill="#2d8fab" stroke="#000" stroke-width="0.8"/>
<circle cx="58.30" cy="372.60" r="1.4" fill="#2d8fab" stroke="#000" stroke-width="0.8"/>
<circle cx="58.30" cy="374.40" r="1.4" fill="#2d8fab" stroke="#000" stroke-width="0.8"/>
<circle cx="56.20" cy="383.80" r="1.4" fill="#2d8fab" stroke="#000" stroke-width="0.8"/>
<circle cx="57.20" cy="391.60" r="1.4" fill="#2d8fab" stroke="#000" stroke-width="0.8"/>
<circle cx="77.30" cy="252.70" r="1.4" fill="#2d8fab" stroke="#000" stroke-width="0.8"/>
<circle cx="75.70" cy="268.90" r="1.4" fill="#2d8fab" stroke="#000" stroke-width="0.8"/>
<circle cx="78.50" cy="277.60" r="1.4" fill="#2d8fab" stroke="#000" stroke-width="0.8"/>
<circle cx="75.60" cy="283.00" r="1.4" fill="#2d8fab" stroke="#000" stroke-width="0.8"/>
<circle cx="77.10" cy="288.00" r="1.4" fill="#2d8fab" stroke="#000" stroke-width="0.8"/>
<circle cx="73.75" cy="296.60" r="1.4" fill="#2d8fab" stroke="#000" stroke-width="0.8"/>
<circle cx="80.50" cy="300.60" r="1.4" fill="#2d8fab" stroke="#000" stroke-width="0.8"/>
<circle cx="76.30" cy="305.50" r="1.4" fill="#2d8fab" stroke="#000" stroke-width="0.8"/>
<circle cx="73.20" cy="310.80" r="1.4" fill="#2d8fab" stroke="#000" stroke-width="0.8"/>
<circle cx="80.00" cy="309.70" r="1.4" fill="#2d8fab" stroke="#000" stroke-width="0.8"/>
<circle cx="71.00" cy="318.40" r="1.4" fill="#2d8fab" stroke="#000" stroke-width="0.8"/>
<circle cx="74.90" cy="313.10" r="1.4" fill="#2d8fab" stroke="#000" stroke-width="0.8"/>
<circle cx="81.50" cy="312.50" r="1.4" fill="#2d8fab" stroke="#000" stroke-width="0.8"/>
<circle cx="78.25" cy="318.40" r="1.4" fill="#2d8fab" stroke="#000" stroke-width="0.8"/>
<circle cx="82.90" cy="320.50" r="1.4" fill="#2d8fab" stroke="#000" stroke-width="0.8"/>
<circle cx="75.40" cy="323.40" r="1.4" fill="#2d8fab" stroke="#000" stroke-width="0.8"/>
<circle cx="79.40" cy="325.20" r="1.4" fill="#2d8fab" stroke="#000" stroke-width="0.8"/>
<circle cx="73.75" cy="329.40" r="1.4" fill="#2d8fab" stroke="#000" stroke-width="0.8"/>
<circle cx="77.30" cy="332.50" r="1.4" fill="#2d8fab" stroke="#000" stroke-width="0.8"/>
<circle cx="71.20" cy="334.60" r="1.4" fill="#2d8fab" stroke="#000" stroke-width="0.8"/>
<circle cx="76.30" cy="340.90" r="1.4" fill="#2d8fab" stroke="#000" stroke-width="0.8"/>
<circle cx="78.70" cy="340.90" r="1.4" fill="#2d8fab" stroke="#000" stroke-width="0.8"/>
<circle cx="81.60" cy="339.80" r="1.4" fill="#2d8fab" stroke="#000" stroke-width="0.8"/>
<circle cx="74.50" cy="347.70" r="1.4" fill="#2d8fab" stroke="#000" stroke-width="0.8"/>
<circle cx="75.40" cy="355.30" r="1.4" fill="#2d8fab" stroke="#000" stroke-width="0.8"/>
<circle cx="80.10" cy="354.70" r="1.4" fill="#2d8fab" stroke="#000" stroke-width="0.8"/>
<circle cx="72.10" cy="365.30" r="1.4" fill="#2d8fab" stroke="#000" stroke-width="0.8"/>
<circle cx="75.90" cy="366.30" r="1.4" fill="#2d8fab" stroke="#000" stroke-width="0.8"/>
<circle cx="78.25" cy="367.70" r="1.4" fill="#2d8fab" stroke="#000" stroke-width="0.8"/>
<circle cx="81.10" cy="365.30" r="1.4" fill="#2d8fab" stroke="#000" stroke-width="0.8"/>
<circle cx="78.70" cy="366.00" r="1.4" fill="#2d8fab" stroke="#000" stroke-width="0.8"/>
<circle cx="73.30" cy="375.40" r="1.4" fill="#2d8fab" stroke="#000" stroke-width="0.8"/>
<circle cx="79.10" cy="377.90" r="1.4" fill="#2d8fab" stroke="#000" stroke-width="0.8"/>
<circle cx="75.20" cy="381.00" r="1.4" fill="#2d8fab" stroke="#000" stroke-width="0.8"/>
<circle cx="76.85" cy="383.10" r="1.4" fill="#2d8fab" stroke="#000" stroke-width="0.8"/>
<circle cx="94.90" cy="268.90" r="1.4" fill="#2d8fab" stroke="#000" stroke-width="0.8"/>
<circle cx="98.40" cy="268.90" r="1.4" fill="#2d8fab" stroke="#000" stroke-width="0.8"/>
<circle cx="95.70" cy="271.40" r="1.4" fill="#2d8fab" stroke="#000" stroke-width="0.8"/>
<circle cx="97.00" cy="285.80" r="1.4" fill="#2d8fab" stroke="#000" stroke-width="0.8"/>
<circle cx="93.20" cy="288.00" r="1.4" fill="#2d8fab" stroke="#000" stroke-width="0.8"/>
<circle cx="100.50" cy="288.00" r="1.4" fill="#2d8fab" stroke="#000" stroke-width="0.8"/>
<circle cx="96.70" cy="291.40" r="1.4" fill="#2d8fab" stroke="#000" stroke-width="0.8"/>
<circle cx="98.40" cy="306.20" r="1.4" fill="#2d8fab" stroke="#000" stroke-width="0.8"/>
<circle cx="94.10" cy="312.50" r="1.4" fill="#2d8fab" stroke="#000" stroke-width="0.8"/>
<circle cx="100.20" cy="313.60" r="1.4" fill="#2d8fab" stroke="#000" stroke-width="0.8"/>
<circle cx="95.10" cy="318.20" r="1.4" fill="#2d8fab" stroke="#000" stroke-width="0.8"/>
<circle cx="98.40" cy="321.30" r="1.4" fill="#2d8fab" stroke="#000" stroke-width="0.8"/>
<circle cx="91.30" cy="323.40" r="1.4" fill="#2d8fab" stroke="#000" stroke-width="0.8"/>
<circle cx="102.60" cy="325.20" r="1.4" fill="#2d8fab" stroke="#000" stroke-width="0.8"/>
<circle cx="95.60" cy="327.60" r="1.4" fill="#2d8fab" stroke="#000" stroke-width="0.8"/>
<circle cx="99.50" cy="329.70" r="1.4" fill="#2d8fab" stroke="#000" stroke-width="0.8"/>
<circle cx="91.50" cy="332.50" r="1.4" fill="#2d8fab" stroke="#000" stroke-width="0.8"/>
<circle cx="101.60" cy="332.80" r="1.4" fill="#2d8fab" stroke="#000" stroke-width="0.8"/>
<circle cx="90.60" cy="336.70" r="1.4" fill="#2d8fab" stroke="#000" stroke-width="0.8"/>
<circle cx="94.10" cy="336.70" r="1.4" fill="#2d8fab" stroke="#000" stroke-width="0.8"/>
<circle cx="97.40" cy="336.70" r="1.4" fill="#2d8fab" stroke="#000" stroke-width="0.8"/>
<circle cx="102.20" cy="342.80" r="1.4" fill="#2d8fab" stroke="#000" stroke-width="0.8"/>
<circle cx="96.30" cy="348.30" r="1.4" fill="#2d8fab" stroke="#000" stroke-width="0.8"/>
<circle cx="92.50" cy="351.80" r="1.4" fill="#2d8fab" stroke="#000" stroke-width="0.8"/>
<circle cx="99.50" cy="351.20" r="1.4" fill="#2d8fab" stroke="#000" stroke-width="0.8"/>
<circle cx="94.10" cy="355.00" r="1.4" fill="#2d8fab" stroke="#000" stroke-width="0.8"/>
<circle cx="101.60" cy="355.00" r="1.4" fill="#2d8fab" stroke="#000" stroke-width="0.8"/>
<circle cx="91.30" cy="360.00" r="1.4" fill="#2d8fab" stroke="#000" stroke-width="0.8"/>
<circle cx="97.70" cy="359.20" r="1.4" fill="#2d8fab" stroke="#000" stroke-width="0.8"/>
<circle cx="101.60" cy="360.40" r="1.4" fill="#2d8fab" stroke="#000" stroke-width="0.8"/>
<circle cx="95.60" cy="366.50" r="1.4" fill="#2d8fab" stroke="#000" stroke-width="0.8"/>
<circle cx="97.70" cy="375.40" r="1.4" fill="#2d8fab" stroke="#000" stroke-width="0.8"/>
<circle cx="94.10" cy="380.30" r="1.4" fill="#2d8fab" stroke="#000" stroke-width="0.8"/>
<circle cx="98.40" cy="383.10" r="1.4" fill="#2d8fab" stroke="#000" stroke-width="0.8"/>
<circle cx="96.00" cy="391.60" r="1.4" fill="#2d8fab" stroke="#000" stroke-width="0.8"/>
<circle cx="117.40" cy="277.60" r="1.4" fill="#2d8fab" stroke="#000" stroke-width="0.8"/>
<circle cx="116.40" cy="294.00" r="1.4" fill="#2d8fab" stroke="#000" stroke-width="0.8"/>
<circle cx="117.10" cy="313.60" r="1.4" fill="#2d8fab" stroke="#000" stroke-width="0.8"/>
<circle cx="112.90" cy="323.10" r="1.4" fill="#2d8fab" stroke="#000" stroke-width="0.8"/>
<circle cx="110.00" cy="329.70" r="1.4" fill="#2d8fab" stroke="#000" stroke-width="0.8"/>
<circle cx="113.10" cy="328.30" r="1.4" fill="#2d8fab" stroke="#000" stroke-width="0.8"/>
<circle cx="116.00" cy="330.40" r="1.4" fill="#2d8fab" stroke="#000" stroke-width="0.8"/>
<circle cx="118.80" cy="329.40" r="1.4" fill="#2d8fab" stroke="#000" stroke-width="0.8"/>
<circle cx="121.60" cy="328.30" r="1.4" fill="#2d8fab" stroke="#000" stroke-width="0.8"/>
<circle cx="123.70" cy="330.40" r="1.4" fill="#2d8fab" stroke="#000" stroke-width="0.8"/>
<circle cx="114.80" cy="338.80" r="1.4" fill="#2d8fab" stroke="#000" stroke-width="0.8"/>
<circle cx="117.40" cy="340.90" r="1.4" fill="#2d8fab" stroke="#000" stroke-width="0.8"/>
<circle cx="119.90" cy="338.80" r="1.4" fill="#2d8fab" stroke="#000" stroke-width="0.8"/>
<circle cx="113.40" cy="362.30" r="1.4" fill="#2d8fab" stroke="#000" stroke-width="0.8"/>
<circle cx="119.50" cy="363.20" r="1.4" fill="#2d8fab" stroke="#000" stroke-width="0.8"/>
<circle cx="116.00" cy="367.40" r="1.4" fill="#2d8fab" stroke="#000" stroke-width="0.8"/>
<circle cx="118.50" cy="367.40" r="1.4" fill="#2d8fab" stroke="#000" stroke-width="0.8"/>
<circle cx="113.40" cy="370.20" r="1.4" fill="#2d8fab" stroke="#000" stroke-width="0.8"/>
<circle cx="118.50" cy="371.90" r="1.4" fill="#2d8fab" stroke="#000" stroke-width="0.8"/>
<circle cx="116.40" cy="391.60" r="1.4" fill="#2d8fab" stroke="#000" stroke-width="0.8"/>
<circle cx="117.40" cy="313.50" r="1.4" fill="#2d8fab" stroke="#000" stroke-width="0.8"/>
<rect x="28.3" y="389.9" width="17.5" height="3.7" rx="1.85" fill="#2a2a2a"/>
<rect x="135" y="389.9" width="17.5" height="3.7" rx="1.85" fill="#2a2a2a"/>
<rect x="155" y="389.9" width="17.5" height="3.7" rx="1.85" fill="#2a2a2a"/>
<rect x="174.5" y="389.9" width="18.0" height="3.7" rx="1.85" fill="#2a2a2a"/>
<rect x="194.5" y="389.9" width="18.0" height="3.7" rx="1.85" fill="#2a2a2a"/>
<circle cx="175.90" cy="391.75" r="0.9" fill="#e9c420" stroke="#000" stroke-width="0.8"/>
<circle cx="191.10" cy="391.75" r="0.9" fill="#e9c420" stroke="#000" stroke-width="0.8"/>
<circle cx="195.90" cy="391.75" r="0.9" fill="#e9c420" stroke="#000" stroke-width="0.8"/>
<circle cx="211.10" cy="391.75" r="0.9" fill="#e9c420" stroke="#000" stroke-width="0.8"/>
<line x1="223.50" y1="380.50" x2="223.50" y2="385.60" stroke="#333333" stroke-width="1.2" />
<rect x="215.40" y="385.60" width="16.00" height="6.80" fill="#f4de9f" stroke="#333333" stroke-width="1.5" />
<line x1="215.40" y1="391.60" x2="231.40" y2="391.60" stroke="#333333" stroke-width="2.0" />
<circle cx="164.00" cy="381.50" r="1.4" fill="#e9c420" stroke="#000" stroke-width="0.8"/>
<circle cx="164.00" cy="383.30" r="1.4" fill="#e9c420" stroke="#000" stroke-width="0.8"/>
<circle cx="183.75" cy="381.50" r="1.4" fill="#e9c420" stroke="#000" stroke-width="0.8"/>
<circle cx="183.20" cy="382.80" r="1.4" fill="#e9c420" stroke="#000" stroke-width="0.8"/>
<circle cx="203.60" cy="380.80" r="1.4" fill="#e9c420" stroke="#000" stroke-width="0.8"/>
<circle cx="203.60" cy="383.60" r="1.4" fill="#e9c420" stroke="#000" stroke-width="0.8"/>
<circle cx="222.20" cy="380.00" r="1.4" fill="#e9c420" stroke="#000" stroke-width="0.8"/>
<circle cx="224.80" cy="380.00" r="1.4" fill="#e9c420" stroke="#000" stroke-width="0.8"/>
<circle cx="223.50" cy="382.40" r="1.4" fill="#e9c420" stroke="#000" stroke-width="0.8"/>
<circle cx="223.50" cy="384.30" r="1.4" fill="#e9c420" stroke="#000" stroke-width="0.8"/>
<rect x="25.50" y="246.00" width="103.25" height="152.50" fill="none" stroke="#333333" stroke-width="0.9" />
<rect x="132.50" y="246.00" width="103.00" height="152.50" fill="none" stroke="#333333" stroke-width="0.9" />
<rect x="25.50" y="235.30" width="103.25" height="10.70" fill="#d9d9d9" stroke="#333333" stroke-width="0.9" />
<text x="77.12" y="242.92" font-size="6.3" text-anchor="middle" fill="#111" >FMT</text>
<rect x="132.50" y="235.30" width="103.00" height="10.70" fill="#d9d9d9" stroke="#333333" stroke-width="0.9" />
<text x="184.00" y="242.92" font-size="6.3" text-anchor="middle" fill="#111" >Placebo</text>
<line x1="23.00" y1="391.75" x2="25.50" y2="391.75" stroke="#333333" stroke-width="0.8" />
<text x="22.20" y="394.36" font-size="7.0" text-anchor="end" fill="#3a3a3a" textLength="3.81" lengthAdjust="spacingAndGlyphs" >0</text>
<line x1="23.00" y1="346.00" x2="25.50" y2="346.00" stroke="#333333" stroke-width="0.8" />
<text x="22.20" y="348.61" font-size="7.0" text-anchor="end" fill="#3a3a3a" textLength="7.63" lengthAdjust="spacingAndGlyphs" >20</text>
<line x1="23.00" y1="300.25" x2="25.50" y2="300.25" stroke="#333333" stroke-width="0.8" />
<text x="22.20" y="302.86" font-size="7.0" text-anchor="end" fill="#3a3a3a" textLength="7.63" lengthAdjust="spacingAndGlyphs" >40</text>
<line x1="23.00" y1="254.50" x2="25.50" y2="254.50" stroke="#333333" stroke-width="0.8" />
<text x="22.20" y="257.11" font-size="7.0" text-anchor="end" fill="#3a3a3a" textLength="7.63" lengthAdjust="spacingAndGlyphs" >60</text>
<line x1="37.60" y1="398.50" x2="37.60" y2="401.00" stroke="#333333" stroke-width="0.8" />
<text x="37.60" y="408.30" font-size="7.3" text-anchor="middle" fill="#3a3a3a" >BL</text>
<line x1="57.30" y1="398.50" x2="57.30" y2="401.00" stroke="#333333" stroke-width="0.8" />
<text x="57.30" y="408.30" font-size="7.3" text-anchor="middle" fill="#3a3a3a" >wk6</text>
<line x1="77.10" y1="398.50" x2="77.10" y2="401.00" stroke="#333333" stroke-width="0.8" />
<text x="77.10" y="408.30" font-size="7.3" text-anchor="middle" fill="#3a3a3a" >wk12</text>
<line x1="96.90" y1="398.50" x2="96.90" y2="401.00" stroke="#333333" stroke-width="0.8" />
<text x="96.90" y="408.30" font-size="7.3" text-anchor="middle" fill="#3a3a3a" >wk26</text>
<line x1="116.70" y1="398.50" x2="116.70" y2="401.00" stroke="#333333" stroke-width="0.8" />
<text x="116.70" y="408.30" font-size="7.3" text-anchor="middle" fill="#3a3a3a" >yr4</text>
<line x1="144.25" y1="398.50" x2="144.25" y2="401.00" stroke="#333333" stroke-width="0.8" />
<text x="144.25" y="408.30" font-size="7.3" text-anchor="middle" fill="#3a3a3a" >BL</text>
<line x1="164.00" y1="398.50" x2="164.00" y2="401.00" stroke="#333333" stroke-width="0.8" />
<text x="164.00" y="408.30" font-size="7.3" text-anchor="middle" fill="#3a3a3a" >wk6</text>
<line x1="183.75" y1="398.50" x2="183.75" y2="401.00" stroke="#333333" stroke-width="0.8" />
<text x="183.75" y="408.30" font-size="7.3" text-anchor="middle" fill="#3a3a3a" >wk12</text>
<line x1="203.75" y1="398.50" x2="203.75" y2="401.00" stroke="#333333" stroke-width="0.8" />
<text x="203.75" y="408.30" font-size="7.3" text-anchor="middle" fill="#3a3a3a" >wk26</text>
<line x1="223.50" y1="398.50" x2="223.50" y2="401.00" stroke="#333333" stroke-width="0.8" />
<text x="223.50" y="408.30" font-size="7.3" text-anchor="middle" fill="#3a3a3a" >yr4</text>
<text x="10.20" y="321.20" font-size="7.5" text-anchor="middle" fill="#000" textLength="57.5" lengthAdjust="spacingAndGlyphs" transform="rotate(-90 10.20 321.20)" >Donor strains (%)</text>
<rect x="320.50" y="244.30" width="65.00" height="159.00" fill="#fff" stroke="none" stroke-width="0" />
<line x1="320.50" y1="378.15" x2="385.50" y2="378.15" stroke="#ebebeb" stroke-width="0.5" />
<line x1="320.50" y1="342.05" x2="385.50" y2="342.05" stroke="#ebebeb" stroke-width="0.5" />
<line x1="320.50" y1="305.95" x2="385.50" y2="305.95" stroke="#ebebeb" stroke-width="0.5" />
<line x1="320.50" y1="269.85" x2="385.50" y2="269.85" stroke="#ebebeb" stroke-width="0.5" />
<line x1="320.50" y1="396.20" x2="385.50" y2="396.20" stroke="#ebebeb" stroke-width="0.9" />
<line x1="320.50" y1="360.10" x2="385.50" y2="360.10" stroke="#ebebeb" stroke-width="0.9" />
<line x1="320.50" y1="324.00" x2="385.50" y2="324.00" stroke="#ebebeb" stroke-width="0.9" />
<line x1="320.50" y1="287.90" x2="385.50" y2="287.90" stroke="#ebebeb" stroke-width="0.9" />
<line x1="320.50" y1="251.80" x2="385.50" y2="251.80" stroke="#ebebeb" stroke-width="0.9" />
<line x1="338.20" y1="244.30" x2="338.20" y2="403.30" stroke="#ebebeb" stroke-width="0.9" />
<line x1="367.80" y1="244.30" x2="367.80" y2="403.30" stroke="#ebebeb" stroke-width="0.9" />
<rect x="324.60" y="375.26" width="27.20" height="20.94" fill="#7393d0" stroke="#1a1a1a" stroke-width="0.9" />
<rect x="324.60" y="284.58" width="27.20" height="90.68" fill="#e6a0c4" stroke="#1a1a1a" stroke-width="0.9" />
<rect x="324.60" y="253.82" width="27.20" height="30.76" fill="#c8cbe9" stroke="#1a1a1a" stroke-width="0.9" />
<rect x="324.60" y="251.80" width="27.20" height="2.02" fill="#2e3192" stroke="#1a1a1a" stroke-width="0.9" />
<text x="338.20" y="386.10" font-size="6.2" text-anchor="middle" fill="#000" textLength="11.17" lengthAdjust="spacingAndGlyphs" stroke="#000" stroke-width="0.07">15%</text>
<text x="338.20" y="331.10" font-size="6.2" text-anchor="middle" fill="#000" textLength="11.17" lengthAdjust="spacingAndGlyphs" stroke="#000" stroke-width="0.07">62%</text>
<text x="338.20" y="270.00" font-size="6.2" text-anchor="middle" fill="#000" textLength="11.17" lengthAdjust="spacingAndGlyphs" stroke="#000" stroke-width="0.07">21%</text>
<rect x="354.20" y="367.61" width="27.20" height="28.59" fill="#a0844f" stroke="#1a1a1a" stroke-width="0.9" />
<rect x="354.20" y="296.56" width="27.20" height="71.04" fill="#b0e0dc" stroke="#1a1a1a" stroke-width="0.9" />
<rect x="354.20" y="269.99" width="27.20" height="26.57" fill="#d99e4e" stroke="#1a1a1a" stroke-width="0.9" />
<rect x="354.20" y="265.37" width="27.20" height="4.48" fill="#0f68a0" stroke="#1a1a1a" stroke-width="0.9" />
<rect x="354.20" y="251.80" width="27.20" height="13.57" fill="#efcfae" stroke="#1a1a1a" stroke-width="0.9" />
<text x="367.80" y="386.10" font-size="6.2" text-anchor="middle" fill="#000" textLength="11.17" lengthAdjust="spacingAndGlyphs" stroke="#000" stroke-width="0.07">20%</text>
<text x="367.80" y="331.10" font-size="6.2" text-anchor="middle" fill="#000" textLength="11.17" lengthAdjust="spacingAndGlyphs" stroke="#000" stroke-width="0.07">49%</text>
<text x="367.80" y="284.00" font-size="6.2" text-anchor="middle" fill="#000" textLength="11.17" lengthAdjust="spacingAndGlyphs" stroke="#000" stroke-width="0.07">19%</text>
<text x="367.80" y="260.00" font-size="6.2" text-anchor="middle" fill="#000" textLength="11.17" lengthAdjust="spacingAndGlyphs" stroke="#000" stroke-width="0.07">10%</text>
<rect x="320.50" y="244.30" width="65.00" height="159.00" fill="none" stroke="#333333" stroke-width="0.9" />
<rect x="320.50" y="234.30" width="65.00" height="10.00" fill="#d9d9d9" stroke="#333333" stroke-width="0.9" />
<text x="353.00" y="241.39" font-size="5.8" text-anchor="middle" fill="#111" >Bacterial</text>
<line x1="318.00" y1="396.20" x2="320.50" y2="396.20" stroke="#333333" stroke-width="0.8" />
<text x="316.70" y="398.46" font-size="7.7" text-anchor="end" fill="#3a3a3a" textLength="3.58" lengthAdjust="spacingAndGlyphs" >0</text>
<line x1="318.00" y1="360.10" x2="320.50" y2="360.10" stroke="#333333" stroke-width="0.8" />
<text x="316.70" y="362.36" font-size="7.7" text-anchor="end" fill="#3a3a3a" textLength="7.15" lengthAdjust="spacingAndGlyphs" >25</text>
<line x1="318.00" y1="324.00" x2="320.50" y2="324.00" stroke="#333333" stroke-width="0.8" />
<text x="316.70" y="326.26" font-size="7.7" text-anchor="end" fill="#3a3a3a" textLength="7.15" lengthAdjust="spacingAndGlyphs" >50</text>
<line x1="318.00" y1="287.90" x2="320.50" y2="287.90" stroke="#333333" stroke-width="0.8" />
<text x="316.70" y="290.16" font-size="7.7" text-anchor="end" fill="#3a3a3a" textLength="7.15" lengthAdjust="spacingAndGlyphs" >75</text>
<line x1="318.00" y1="251.80" x2="320.50" y2="251.80" stroke="#333333" stroke-width="0.8" />
<text x="316.70" y="254.06" font-size="7.7" text-anchor="end" fill="#3a3a3a" textLength="10.73" lengthAdjust="spacingAndGlyphs" >100</text>
<line x1="338.20" y1="403.30" x2="338.20" y2="405.80" stroke="#333333" stroke-width="0.8" />
<text x="338.20" y="412.90" font-size="7.6" text-anchor="middle" fill="#333" textLength="24.07" lengthAdjust="spacingAndGlyphs" >Female</text>
<line x1="367.80" y1="403.30" x2="367.80" y2="405.80" stroke="#333333" stroke-width="0.8" />
<text x="367.80" y="412.90" font-size="7.6" text-anchor="middle" fill="#333" textLength="15.65" lengthAdjust="spacingAndGlyphs" >Male</text>
<text x="304.00" y="315.70" font-size="7.5" text-anchor="middle" fill="#000" textLength="116" lengthAdjust="spacingAndGlyphs" transform="rotate(-90 304.00 315.70)" >Strain engraftment contribution (%)</text>
<text x="390.20" y="282.80" font-size="7.8" text-anchor="start" fill="#000" textLength="19.76" lengthAdjust="spacingAndGlyphs" >Donor</text>
<rect x="390.60" y="287.20" width="10.80" height="10.30" fill="#2e3192" stroke="#1a1a1a" stroke-width="0.7" />
<text x="404.80" y="295.14" font-size="7.8" text-anchor="start" fill="#000" textLength="17.74" lengthAdjust="spacingAndGlyphs" >DF12</text>
<rect x="390.60" y="299.45" width="10.80" height="10.30" fill="#c8cbe9" stroke="#1a1a1a" stroke-width="0.7" />
<text x="404.80" y="307.39" font-size="7.8" text-anchor="start" fill="#000" textLength="17.74" lengthAdjust="spacingAndGlyphs" >DF14</text>
<rect x="390.60" y="311.70" width="10.80" height="10.30" fill="#e6a0c4" stroke="#1a1a1a" stroke-width="0.7" />
<text x="404.80" y="319.64" font-size="7.8" text-anchor="start" fill="#000" textLength="17.74" lengthAdjust="spacingAndGlyphs" >DF16</text>
<rect x="390.60" y="323.95" width="10.80" height="10.30" fill="#7393d0" stroke="#1a1a1a" stroke-width="0.7" />
<text x="404.80" y="331.89" font-size="7.8" text-anchor="start" fill="#000" textLength="17.74" lengthAdjust="spacingAndGlyphs" >DF17</text>
<rect x="390.60" y="336.20" width="10.80" height="10.30" fill="#efcfae" stroke="#1a1a1a" stroke-width="0.7" />
<text x="404.80" y="344.14" font-size="7.8" text-anchor="start" fill="#000" textLength="19.35" lengthAdjust="spacingAndGlyphs" >DM03</text>
<rect x="390.60" y="348.45" width="10.80" height="10.30" fill="#0f68a0" stroke="#1a1a1a" stroke-width="0.7" />
<text x="404.80" y="356.39" font-size="7.8" text-anchor="start" fill="#000" textLength="19.35" lengthAdjust="spacingAndGlyphs" >DM05</text>
<rect x="390.60" y="360.70" width="10.80" height="10.30" fill="#d99e4e" stroke="#1a1a1a" stroke-width="0.7" />
<text x="404.80" y="368.64" font-size="7.8" text-anchor="start" fill="#000" textLength="19.35" lengthAdjust="spacingAndGlyphs" >DM07</text>
<rect x="390.60" y="372.95" width="10.80" height="10.30" fill="#b0e0dc" stroke="#1a1a1a" stroke-width="0.7" />
<text x="404.80" y="380.89" font-size="7.8" text-anchor="start" fill="#000" textLength="19.35" lengthAdjust="spacingAndGlyphs" >DM08</text>
<rect x="390.60" y="385.20" width="10.80" height="10.30" fill="#a0844f" stroke="#1a1a1a" stroke-width="0.7" />
<text x="404.80" y="393.14" font-size="7.8" text-anchor="start" fill="#000" textLength="19.35" lengthAdjust="spacingAndGlyphs" >DM12</text>
<rect x="318.75" y="462.50" width="65.00" height="159.70" fill="#fff" stroke="none" stroke-width="0" />
<line x1="318.75" y1="596.25" x2="383.75" y2="596.25" stroke="#ebebeb" stroke-width="0.5" />
<line x1="318.75" y1="559.95" x2="383.75" y2="559.95" stroke="#ebebeb" stroke-width="0.5" />
<line x1="318.75" y1="523.65" x2="383.75" y2="523.65" stroke="#ebebeb" stroke-width="0.5" />
<line x1="318.75" y1="487.35" x2="383.75" y2="487.35" stroke="#ebebeb" stroke-width="0.5" />
<line x1="318.75" y1="614.40" x2="383.75" y2="614.40" stroke="#ebebeb" stroke-width="0.9" />
<line x1="318.75" y1="578.10" x2="383.75" y2="578.10" stroke="#ebebeb" stroke-width="0.9" />
<line x1="318.75" y1="541.80" x2="383.75" y2="541.80" stroke="#ebebeb" stroke-width="0.9" />
<line x1="318.75" y1="505.50" x2="383.75" y2="505.50" stroke="#ebebeb" stroke-width="0.9" />
<line x1="318.75" y1="469.20" x2="383.75" y2="469.20" stroke="#ebebeb" stroke-width="0.9" />
<line x1="336.45" y1="462.50" x2="336.45" y2="622.20" stroke="#ebebeb" stroke-width="0.9" />
<line x1="366.05" y1="462.50" x2="366.05" y2="622.20" stroke="#ebebeb" stroke-width="0.9" />
<rect x="322.85" y="588.26" width="27.20" height="26.14" fill="#7393d0" stroke="#1a1a1a" stroke-width="0.9" />
<rect x="322.85" y="522.92" width="27.20" height="65.34" fill="#e6a0c4" stroke="#1a1a1a" stroke-width="0.9" />
<rect x="322.85" y="488.08" width="27.20" height="34.85" fill="#c8cbe9" stroke="#1a1a1a" stroke-width="0.9" />
<rect x="322.85" y="469.20" width="27.20" height="18.88" fill="#2e3192" stroke="#1a1a1a" stroke-width="0.9" />
<text x="336.45" y="605.30" font-size="6.2" text-anchor="middle" fill="#000" textLength="11.17" lengthAdjust="spacingAndGlyphs" stroke="#000" stroke-width="0.07">18%</text>
<text x="336.45" y="558.60" font-size="6.2" text-anchor="middle" fill="#000" textLength="11.17" lengthAdjust="spacingAndGlyphs" stroke="#000" stroke-width="0.07">45%</text>
<text x="336.45" y="507.85" font-size="6.2" text-anchor="middle" fill="#000" textLength="11.17" lengthAdjust="spacingAndGlyphs" stroke="#000" stroke-width="0.07">24%</text>
<text x="336.45" y="479.10" font-size="6.2" text-anchor="middle" fill="#000" textLength="11.17" lengthAdjust="spacingAndGlyphs" stroke="#000" stroke-width="0.07">13%</text>
<rect x="352.45" y="598.57" width="27.20" height="15.83" fill="#a0844f" stroke="#1a1a1a" stroke-width="0.9" />
<rect x="352.45" y="548.62" width="27.20" height="49.95" fill="#b0e0dc" stroke="#1a1a1a" stroke-width="0.9" />
<rect x="352.45" y="495.63" width="27.20" height="53.00" fill="#d99e4e" stroke="#1a1a1a" stroke-width="0.9" />
<rect x="352.45" y="469.20" width="27.20" height="26.43" fill="#efcfae" stroke="#1a1a1a" stroke-width="0.9" />
<text x="366.05" y="608.20" font-size="6.2" text-anchor="middle" fill="#000" textLength="10.75" lengthAdjust="spacingAndGlyphs" stroke="#000" stroke-width="0.07">11%</text>
<text x="366.05" y="574.85" font-size="6.2" text-anchor="middle" fill="#000" textLength="11.17" lengthAdjust="spacingAndGlyphs" stroke="#000" stroke-width="0.07">34%</text>
<text x="366.05" y="520.35" font-size="6.2" text-anchor="middle" fill="#000" textLength="11.17" lengthAdjust="spacingAndGlyphs" stroke="#000" stroke-width="0.07">37%</text>
<text x="366.05" y="483.35" font-size="6.2" text-anchor="middle" fill="#000" textLength="11.17" lengthAdjust="spacingAndGlyphs" stroke="#000" stroke-width="0.07">18%</text>
<rect x="318.75" y="462.50" width="65.00" height="159.70" fill="none" stroke="#333333" stroke-width="0.9" />
<rect x="318.75" y="452.50" width="65.00" height="10.00" fill="#d9d9d9" stroke="#333333" stroke-width="0.9" />
<text x="351.25" y="459.59" font-size="5.8" text-anchor="middle" fill="#111" >Viral</text>
<line x1="316.25" y1="614.40" x2="318.75" y2="614.40" stroke="#333333" stroke-width="0.8" />
<text x="314.95" y="616.66" font-size="7.7" text-anchor="end" fill="#3a3a3a" textLength="3.58" lengthAdjust="spacingAndGlyphs" >0</text>
<line x1="316.25" y1="578.10" x2="318.75" y2="578.10" stroke="#333333" stroke-width="0.8" />
<text x="314.95" y="580.36" font-size="7.7" text-anchor="end" fill="#3a3a3a" textLength="7.15" lengthAdjust="spacingAndGlyphs" >25</text>
<line x1="316.25" y1="541.80" x2="318.75" y2="541.80" stroke="#333333" stroke-width="0.8" />
<text x="314.95" y="544.06" font-size="7.7" text-anchor="end" fill="#3a3a3a" textLength="7.15" lengthAdjust="spacingAndGlyphs" >50</text>
<line x1="316.25" y1="505.50" x2="318.75" y2="505.50" stroke="#333333" stroke-width="0.8" />
<text x="314.95" y="507.76" font-size="7.7" text-anchor="end" fill="#3a3a3a" textLength="7.15" lengthAdjust="spacingAndGlyphs" >75</text>
<line x1="316.25" y1="469.20" x2="318.75" y2="469.20" stroke="#333333" stroke-width="0.8" />
<text x="314.95" y="471.46" font-size="7.7" text-anchor="end" fill="#3a3a3a" textLength="10.73" lengthAdjust="spacingAndGlyphs" >100</text>
<line x1="336.45" y1="622.20" x2="336.45" y2="624.70" stroke="#333333" stroke-width="0.8" />
<text x="336.45" y="631.80" font-size="7.6" text-anchor="middle" fill="#333" textLength="24.07" lengthAdjust="spacingAndGlyphs" >Female</text>
<line x1="366.05" y1="622.20" x2="366.05" y2="624.70" stroke="#333333" stroke-width="0.8" />
<text x="366.05" y="631.80" font-size="7.6" text-anchor="middle" fill="#333" textLength="15.65" lengthAdjust="spacingAndGlyphs" >Male</text>
<text x="302.25" y="534.50" font-size="7.5" text-anchor="middle" fill="#000" textLength="116" lengthAdjust="spacingAndGlyphs" transform="rotate(-90 302.25 534.50)" >Strain engraftment contribution (%)</text>
<text x="389.50" y="501.00" font-size="7.8" text-anchor="start" fill="#000" textLength="19.76" lengthAdjust="spacingAndGlyphs" >Donor</text>
<rect x="389.90" y="505.35" width="10.80" height="10.30" fill="#2e3192" stroke="#1a1a1a" stroke-width="0.7" />
<text x="404.10" y="513.29" font-size="7.8" text-anchor="start" fill="#000" textLength="17.74" lengthAdjust="spacingAndGlyphs" >DF12</text>
<rect x="389.90" y="517.63" width="10.80" height="10.30" fill="#c8cbe9" stroke="#1a1a1a" stroke-width="0.7" />
<text x="404.10" y="525.57" font-size="7.8" text-anchor="start" fill="#000" textLength="17.74" lengthAdjust="spacingAndGlyphs" >DF14</text>
<rect x="389.90" y="529.91" width="10.80" height="10.30" fill="#e6a0c4" stroke="#1a1a1a" stroke-width="0.7" />
<text x="404.10" y="537.85" font-size="7.8" text-anchor="start" fill="#000" textLength="17.74" lengthAdjust="spacingAndGlyphs" >DF16</text>
<rect x="389.90" y="542.19" width="10.80" height="10.30" fill="#7393d0" stroke="#1a1a1a" stroke-width="0.7" />
<text x="404.10" y="550.13" font-size="7.8" text-anchor="start" fill="#000" textLength="17.74" lengthAdjust="spacingAndGlyphs" >DF17</text>
<rect x="389.90" y="554.47" width="10.80" height="10.30" fill="#efcfae" stroke="#1a1a1a" stroke-width="0.7" />
<text x="404.10" y="562.41" font-size="7.8" text-anchor="start" fill="#000" textLength="19.35" lengthAdjust="spacingAndGlyphs" >DM03</text>
<rect x="389.90" y="566.75" width="10.80" height="10.30" fill="#0f68a0" stroke="#1a1a1a" stroke-width="0.7" />
<text x="404.10" y="574.69" font-size="7.8" text-anchor="start" fill="#000" textLength="19.35" lengthAdjust="spacingAndGlyphs" >DM05</text>
<rect x="389.90" y="579.03" width="10.80" height="10.30" fill="#d99e4e" stroke="#1a1a1a" stroke-width="0.7" />
<text x="404.10" y="586.97" font-size="7.8" text-anchor="start" fill="#000" textLength="19.35" lengthAdjust="spacingAndGlyphs" >DM07</text>
<rect x="389.90" y="591.31" width="10.80" height="10.30" fill="#b0e0dc" stroke="#1a1a1a" stroke-width="0.7" />
<text x="404.10" y="599.25" font-size="7.8" text-anchor="start" fill="#000" textLength="19.35" lengthAdjust="spacingAndGlyphs" >DM08</text>
<rect x="389.90" y="603.59" width="10.80" height="10.30" fill="#a0844f" stroke="#1a1a1a" stroke-width="0.7" />
<text x="404.10" y="611.53" font-size="7.8" text-anchor="start" fill="#000" textLength="19.35" lengthAdjust="spacingAndGlyphs" >DM12</text>
<rect x="27.40" y="461.25" width="101.85" height="164.25" fill="#fff" stroke="none" stroke-width="0" />
<line x1="27.40" y1="599.80" x2="129.25" y2="599.80" stroke="#ebebeb" stroke-width="0.5" />
<line x1="27.40" y1="562.60" x2="129.25" y2="562.60" stroke="#ebebeb" stroke-width="0.5" />
<line x1="27.40" y1="525.40" x2="129.25" y2="525.40" stroke="#ebebeb" stroke-width="0.5" />
<line x1="27.40" y1="488.20" x2="129.25" y2="488.20" stroke="#ebebeb" stroke-width="0.5" />
<line x1="27.40" y1="618.40" x2="129.25" y2="618.40" stroke="#ebebeb" stroke-width="0.9" />
<line x1="27.40" y1="581.20" x2="129.25" y2="581.20" stroke="#ebebeb" stroke-width="0.9" />
<line x1="27.40" y1="544.00" x2="129.25" y2="544.00" stroke="#ebebeb" stroke-width="0.9" />
<line x1="27.40" y1="506.80" x2="129.25" y2="506.80" stroke="#ebebeb" stroke-width="0.9" />
<line x1="27.40" y1="469.60" x2="129.25" y2="469.60" stroke="#ebebeb" stroke-width="0.9" />
<rect x="133.75" y="461.25" width="101.25" height="164.25" fill="#fff" stroke="none" stroke-width="0" />
<line x1="133.75" y1="599.80" x2="235.00" y2="599.80" stroke="#ebebeb" stroke-width="0.5" />
<line x1="133.75" y1="562.60" x2="235.00" y2="562.60" stroke="#ebebeb" stroke-width="0.5" />
<line x1="133.75" y1="525.40" x2="235.00" y2="525.40" stroke="#ebebeb" stroke-width="0.5" />
<line x1="133.75" y1="488.20" x2="235.00" y2="488.20" stroke="#ebebeb" stroke-width="0.5" />
<line x1="133.75" y1="618.40" x2="235.00" y2="618.40" stroke="#ebebeb" stroke-width="0.9" />
<line x1="133.75" y1="581.20" x2="235.00" y2="581.20" stroke="#ebebeb" stroke-width="0.9" />
<line x1="133.75" y1="544.00" x2="235.00" y2="544.00" stroke="#ebebeb" stroke-width="0.9" />
<line x1="133.75" y1="506.80" x2="235.00" y2="506.80" stroke="#ebebeb" stroke-width="0.9" />
<line x1="133.75" y1="469.60" x2="235.00" y2="469.60" stroke="#ebebeb" stroke-width="0.9" />
<line x1="39.10" y1="461.25" x2="39.10" y2="625.50" stroke="#ebebeb" stroke-width="0.9" />
<line x1="58.80" y1="461.25" x2="58.80" y2="625.50" stroke="#ebebeb" stroke-width="0.9" />
<line x1="78.40" y1="461.25" x2="78.40" y2="625.50" stroke="#ebebeb" stroke-width="0.9" />
<line x1="98.20" y1="461.25" x2="98.20" y2="625.50" stroke="#ebebeb" stroke-width="0.9" />
<line x1="117.50" y1="461.25" x2="117.50" y2="625.50" stroke="#ebebeb" stroke-width="0.9" />
<line x1="145.10" y1="461.25" x2="145.10" y2="625.50" stroke="#ebebeb" stroke-width="0.9" />
<line x1="164.70" y1="461.25" x2="164.70" y2="625.50" stroke="#ebebeb" stroke-width="0.9" />
<line x1="184.60" y1="461.25" x2="184.60" y2="625.50" stroke="#ebebeb" stroke-width="0.9" />
<line x1="204.20" y1="461.25" x2="204.20" y2="625.50" stroke="#ebebeb" stroke-width="0.9" />
<line x1="223.90" y1="461.25" x2="223.90" y2="625.50" stroke="#ebebeb" stroke-width="0.9" />
<rect x="30.20" y="469.60" width="17.80" height="133.92" fill="#9fb5cd" stroke="#1a1a1a" stroke-width="0.9" />
<rect x="30.20" y="603.52" width="17.80" height="14.88" fill="#d35a5a" stroke="#1a1a1a" stroke-width="0.9" />
<rect x="49.90" y="469.60" width="17.80" height="28.27" fill="#9fb5cd" stroke="#1a1a1a" stroke-width="0.9" />
<rect x="49.90" y="497.87" width="17.80" height="70.23" fill="#3797b0" stroke="#1a1a1a" stroke-width="0.9" />
<rect x="49.90" y="568.11" width="17.80" height="50.29" fill="#d35a5a" stroke="#1a1a1a" stroke-width="0.9" />
<rect x="69.50" y="469.60" width="17.80" height="27.83" fill="#9fb5cd" stroke="#1a1a1a" stroke-width="0.9" />
<rect x="69.50" y="497.43" width="17.80" height="71.13" fill="#3797b0" stroke="#1a1a1a" stroke-width="0.9" />
<rect x="69.50" y="568.55" width="17.80" height="49.85" fill="#d35a5a" stroke="#1a1a1a" stroke-width="0.9" />
<rect x="89.30" y="469.60" width="17.80" height="26.34" fill="#9fb5cd" stroke="#1a1a1a" stroke-width="0.9" />
<rect x="89.30" y="495.94" width="17.80" height="69.49" fill="#3797b0" stroke="#1a1a1a" stroke-width="0.9" />
<rect x="89.30" y="565.43" width="17.80" height="52.97" fill="#d35a5a" stroke="#1a1a1a" stroke-width="0.9" />
<rect x="108.60" y="469.60" width="17.80" height="20.68" fill="#9fb5cd" stroke="#1a1a1a" stroke-width="0.9" />
<rect x="108.60" y="490.28" width="17.80" height="81.10" fill="#3797b0" stroke="#1a1a1a" stroke-width="0.9" />
<rect x="108.60" y="571.38" width="17.80" height="47.02" fill="#d35a5a" stroke="#1a1a1a" stroke-width="0.9" />
<rect x="136.20" y="469.60" width="17.80" height="137.79" fill="#9fb5cd" stroke="#1a1a1a" stroke-width="0.9" />
<rect x="136.20" y="607.39" width="17.80" height="11.01" fill="#d35a5a" stroke="#1a1a1a" stroke-width="0.9" />
<rect x="155.80" y="469.60" width="17.80" height="72.47" fill="#9fb5cd" stroke="#1a1a1a" stroke-width="0.9" />
<rect x="155.80" y="542.07" width="17.80" height="63.39" fill="#3797b0" stroke="#1a1a1a" stroke-width="0.9" />
<rect x="155.80" y="605.45" width="17.80" height="12.95" fill="#d35a5a" stroke="#1a1a1a" stroke-width="0.9" />
<rect x="175.70" y="469.60" width="17.80" height="71.72" fill="#9fb5cd" stroke="#1a1a1a" stroke-width="0.9" />
<rect x="175.70" y="541.32" width="17.80" height="65.03" fill="#3797b0" stroke="#1a1a1a" stroke-width="0.9" />
<rect x="175.70" y="606.35" width="17.80" height="12.05" fill="#d35a5a" stroke="#1a1a1a" stroke-width="0.9" />
<rect x="195.30" y="469.60" width="17.80" height="72.47" fill="#9fb5cd" stroke="#1a1a1a" stroke-width="0.9" />
<rect x="195.30" y="542.07" width="17.80" height="63.39" fill="#3797b0" stroke="#1a1a1a" stroke-width="0.9" />
<rect x="195.30" y="605.45" width="17.80" height="12.95" fill="#d35a5a" stroke="#1a1a1a" stroke-width="0.9" />
<rect x="215.00" y="469.60" width="17.80" height="47.91" fill="#9fb5cd" stroke="#1a1a1a" stroke-width="0.9" />
<rect x="215.00" y="517.51" width="17.80" height="84.82" fill="#3797b0" stroke="#1a1a1a" stroke-width="0.9" />
<rect x="215.00" y="602.33" width="17.80" height="16.07" fill="#d35a5a" stroke="#1a1a1a" stroke-width="0.9" />
<rect x="27.40" y="461.25" width="101.85" height="164.25" fill="none" stroke="#333333" stroke-width="0.9" />
<rect x="133.75" y="461.25" width="101.25" height="164.25" fill="none" stroke="#333333" stroke-width="0.9" />
<rect x="27.40" y="450.00" width="101.85" height="11.25" fill="#d9d9d9" stroke="#333333" stroke-width="0.9" />
<text x="78.33" y="457.89" font-size="6.3" text-anchor="middle" fill="#111" >FMT</text>
<rect x="133.75" y="450.00" width="101.25" height="11.25" fill="#d9d9d9" stroke="#333333" stroke-width="0.9" />
<text x="184.38" y="457.89" font-size="6.3" text-anchor="middle" fill="#111" >Placebo</text>
<line x1="24.90" y1="618.40" x2="27.40" y2="618.40" stroke="#333333" stroke-width="0.8" />
<text x="24.20" y="620.82" font-size="7.6" text-anchor="end" fill="#3a3a3a" textLength="3.63" lengthAdjust="spacingAndGlyphs" >0</text>
<line x1="24.90" y1="581.20" x2="27.40" y2="581.20" stroke="#333333" stroke-width="0.8" />
<text x="24.20" y="583.62" font-size="7.6" text-anchor="end" fill="#3a3a3a" textLength="7.27" lengthAdjust="spacingAndGlyphs" >25</text>
<line x1="24.90" y1="544.00" x2="27.40" y2="544.00" stroke="#333333" stroke-width="0.8" />
<text x="24.20" y="546.42" font-size="7.6" text-anchor="end" fill="#3a3a3a" textLength="7.27" lengthAdjust="spacingAndGlyphs" >50</text>
<line x1="24.90" y1="506.80" x2="27.40" y2="506.80" stroke="#333333" stroke-width="0.8" />
<text x="24.20" y="509.22" font-size="7.6" text-anchor="end" fill="#3a3a3a" textLength="7.27" lengthAdjust="spacingAndGlyphs" >75</text>
<line x1="24.90" y1="469.60" x2="27.40" y2="469.60" stroke="#333333" stroke-width="0.8" />
<text x="24.20" y="472.02" font-size="7.6" text-anchor="end" fill="#3a3a3a" textLength="10.9" lengthAdjust="spacingAndGlyphs" >100</text>
<line x1="39.10" y1="625.50" x2="39.10" y2="628.00" stroke="#333333" stroke-width="0.8" />
<text x="39.60" y="636.20" font-size="7.3" text-anchor="middle" fill="#3a3a3a" >BL</text>
<line x1="58.80" y1="625.50" x2="58.80" y2="628.00" stroke="#333333" stroke-width="0.8" />
<text x="59.30" y="636.20" font-size="7.3" text-anchor="middle" fill="#3a3a3a" >wk6</text>
<line x1="78.40" y1="625.50" x2="78.40" y2="628.00" stroke="#333333" stroke-width="0.8" />
<text x="78.90" y="636.20" font-size="7.3" text-anchor="middle" fill="#3a3a3a" >wk12</text>
<line x1="98.20" y1="625.50" x2="98.20" y2="628.00" stroke="#333333" stroke-width="0.8" />
<text x="98.70" y="636.20" font-size="7.3" text-anchor="middle" fill="#3a3a3a" >wk26</text>
<line x1="117.50" y1="625.50" x2="117.50" y2="628.00" stroke="#333333" stroke-width="0.8" />
<text x="118.00" y="636.20" font-size="7.3" text-anchor="middle" fill="#3a3a3a" >yr4</text>
<line x1="145.10" y1="625.50" x2="145.10" y2="628.00" stroke="#333333" stroke-width="0.8" />
<text x="145.60" y="636.20" font-size="7.3" text-anchor="middle" fill="#3a3a3a" >BL</text>
<line x1="164.70" y1="625.50" x2="164.70" y2="628.00" stroke="#333333" stroke-width="0.8" />
<text x="165.20" y="636.20" font-size="7.3" text-anchor="middle" fill="#3a3a3a" >wk6</text>
<line x1="184.60" y1="625.50" x2="184.60" y2="628.00" stroke="#333333" stroke-width="0.8" />
<text x="185.10" y="636.20" font-size="7.3" text-anchor="middle" fill="#3a3a3a" >wk12</text>
<line x1="204.20" y1="625.50" x2="204.20" y2="628.00" stroke="#333333" stroke-width="0.8" />
<text x="204.70" y="636.20" font-size="7.3" text-anchor="middle" fill="#3a3a3a" >wk26</text>
<line x1="223.90" y1="625.50" x2="223.90" y2="628.00" stroke="#333333" stroke-width="0.8" />
<text x="224.40" y="636.20" font-size="7.3" text-anchor="middle" fill="#3a3a3a" >yr4</text>
<text x="10.30" y="544.40" font-size="7.6" text-anchor="middle" fill="#000" textLength="83.7" lengthAdjust="spacingAndGlyphs" transform="rotate(-90 10.30 544.40)" >Relative contribution (%)</text>
<text x="240.80" y="574.80" font-size="7.6" text-anchor="start" fill="#000" textLength="40.7" lengthAdjust="spacingAndGlyphs" >vOTU match</text>
<rect x="241.20" y="579.10" width="11.70" height="11.40" fill="#9fb5cd" stroke="#1a1a1a" stroke-width="0.7" />
<text x="256.80" y="587.52" font-size="7.6" text-anchor="start" fill="#000" textLength="8.65" lengthAdjust="spacingAndGlyphs" >BL</text>
<rect x="241.20" y="593.15" width="11.70" height="11.40" fill="#3797b0" stroke="#1a1a1a" stroke-width="0.7" />
<text x="256.80" y="601.57" font-size="7.6" text-anchor="start" fill="#000" textLength="17.68" lengthAdjust="spacingAndGlyphs" >Other</text>
<rect x="241.20" y="607.20" width="11.70" height="11.40" fill="#d35a5a" stroke="#1a1a1a" stroke-width="0.7" />
<text x="256.80" y="615.62" font-size="7.6" text-anchor="start" fill="#000" textLength="19.25" lengthAdjust="spacingAndGlyphs" >Donor</text>
</svg></body></html>
